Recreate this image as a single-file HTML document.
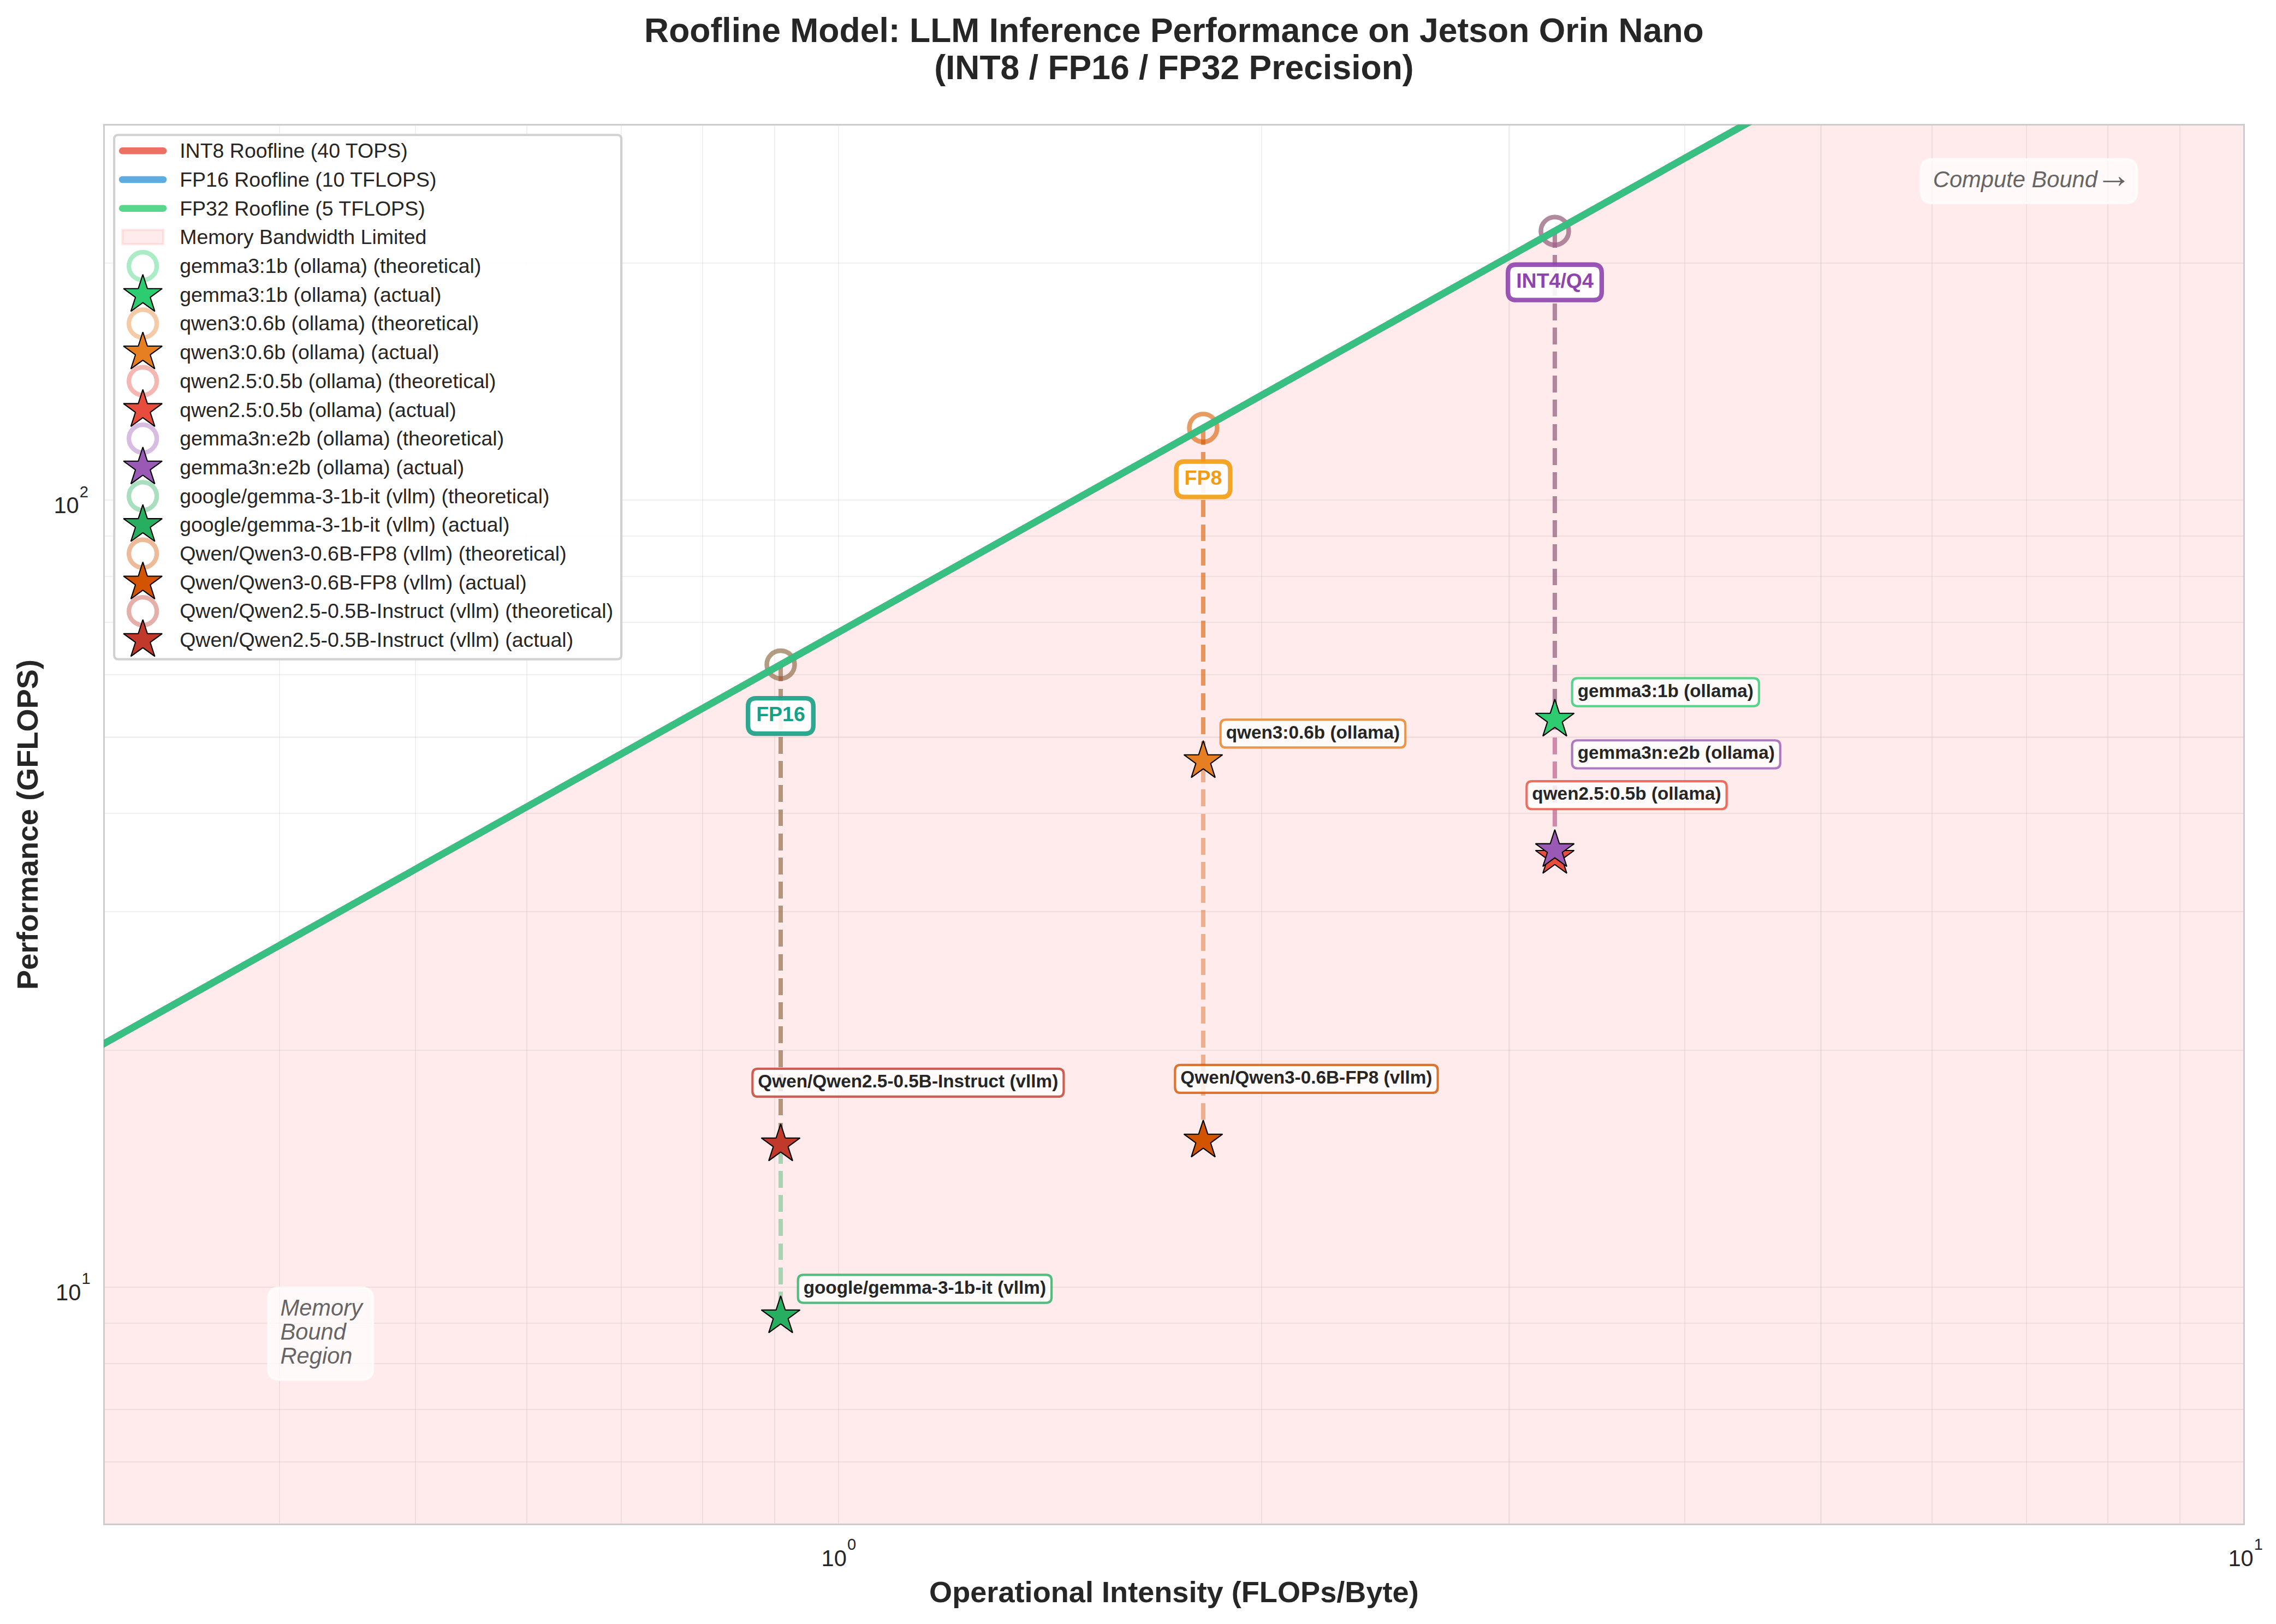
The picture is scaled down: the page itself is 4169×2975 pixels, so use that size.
<!DOCTYPE html>
<html><head><meta charset="utf-8"><title>Roofline Model</title>
<style>html,body{margin:0;padding:0;background:#fff;overflow:hidden;width:4169px;height:2975px}svg{display:block}text{font-family:"Liberation Sans",sans-serif}</style>
</head><body>
<svg width="4169" height="2975" viewBox="0 0 1000.56 714" preserveAspectRatio="none">
 <defs>
  <style type="text/css">*{stroke-linejoin: round; stroke-linecap: butt}</style>
 </defs>
 <g id="figure_1">
  <g id="patch_1">
   <path d="M 0 714  L 1000.56 714  L 1000.56 0  L 0 0  z" style="fill: #ffffff"/>
  </g>
  <g id="axes_1">
   <g id="patch_2">
    <path d="M 45.696 670.176  L 986.496 670.176  L 986.496 54.84  L 45.696 54.84  z" style="fill: #ffffff"/>
   </g>
   <g id="matplotlib.axis_1">
    <g id="xtick_1">
     <g id="line2d_1">
      <path d="M 368.718 670.176  L 368.718 54.84" clip-path="url(#p6d46db9cea)" style="fill: none; stroke: #cccccc; stroke-opacity: 0.3; stroke-width: 0.5; stroke-linecap: butt; shape-rendering: crispEdges"/>
     </g>
     <g id="line2d_2"/>
    </g>
    <g id="xtick_2">
     <g id="line2d_3">
      <path d="M 986.496 670.176  L 986.496 54.84" clip-path="url(#p6d46db9cea)" style="fill: none; stroke: #cccccc; stroke-opacity: 0.3; stroke-width: 0.5; stroke-linecap: butt; shape-rendering: crispEdges"/>
     </g>
     <g id="line2d_4"/>
    </g>
    <g id="xtick_3">
     <g id="line2d_5">
      <path d="M 45.696 670.176  L 45.696 54.84" clip-path="url(#p6d46db9cea)" style="fill: none; stroke: #cccccc; stroke-opacity: 0.3; stroke-width: 0.5; stroke-linecap: butt; shape-rendering: crispEdges"/>
     </g>
     <g id="line2d_6"/>
    </g>
    <g id="xtick_4">
     <g id="line2d_7">
      <path d="M 122.880 670.176  L 122.880 54.84" clip-path="url(#p6d46db9cea)" style="fill: none; stroke: #cccccc; stroke-opacity: 0.3; stroke-width: 0.5; stroke-linecap: butt; shape-rendering: crispEdges"/>
     </g>
     <g id="line2d_8"/>
    </g>
    <g id="xtick_5">
     <g id="line2d_9">
      <path d="M 182.749 670.176  L 182.749 54.84" clip-path="url(#p6d46db9cea)" style="fill: none; stroke: #cccccc; stroke-opacity: 0.3; stroke-width: 0.5; stroke-linecap: butt; shape-rendering: crispEdges"/>
     </g>
     <g id="line2d_10"/>
    </g>
    <g id="xtick_6">
     <g id="line2d_11">
      <path d="M 231.665 670.176  L 231.665 54.84" clip-path="url(#p6d46db9cea)" style="fill: none; stroke: #cccccc; stroke-opacity: 0.3; stroke-width: 0.5; stroke-linecap: butt; shape-rendering: crispEdges"/>
     </g>
     <g id="line2d_12"/>
    </g>
    <g id="xtick_7">
     <g id="line2d_13">
      <path d="M 273.023 670.176  L 273.023 54.84" clip-path="url(#p6d46db9cea)" style="fill: none; stroke: #cccccc; stroke-opacity: 0.3; stroke-width: 0.5; stroke-linecap: butt; shape-rendering: crispEdges"/>
     </g>
     <g id="line2d_14"/>
    </g>
    <g id="xtick_8">
     <g id="line2d_15">
      <path d="M 308.849 670.176  L 308.849 54.84" clip-path="url(#p6d46db9cea)" style="fill: none; stroke: #cccccc; stroke-opacity: 0.3; stroke-width: 0.5; stroke-linecap: butt; shape-rendering: crispEdges"/>
     </g>
     <g id="line2d_16"/>
    </g>
    <g id="xtick_9">
     <g id="line2d_17">
      <path d="M 340.450 670.176  L 340.450 54.84" clip-path="url(#p6d46db9cea)" style="fill: none; stroke: #cccccc; stroke-opacity: 0.3; stroke-width: 0.5; stroke-linecap: butt; shape-rendering: crispEdges"/>
     </g>
     <g id="line2d_18"/>
    </g>
    <g id="xtick_10">
     <g id="line2d_19">
      <path d="M 554.688 670.176  L 554.688 54.84" clip-path="url(#p6d46db9cea)" style="fill: none; stroke: #cccccc; stroke-opacity: 0.3; stroke-width: 0.5; stroke-linecap: butt; shape-rendering: crispEdges"/>
     </g>
     <g id="line2d_20"/>
    </g>
    <g id="xtick_11">
     <g id="line2d_21">
      <path d="M 663.473 670.176  L 663.473 54.84" clip-path="url(#p6d46db9cea)" style="fill: none; stroke: #cccccc; stroke-opacity: 0.3; stroke-width: 0.5; stroke-linecap: butt; shape-rendering: crispEdges"/>
     </g>
     <g id="line2d_22"/>
    </g>
    <g id="xtick_12">
     <g id="line2d_23">
      <path d="M 740.657 670.176  L 740.657 54.84" clip-path="url(#p6d46db9cea)" style="fill: none; stroke: #cccccc; stroke-opacity: 0.3; stroke-width: 0.5; stroke-linecap: butt; shape-rendering: crispEdges"/>
     </g>
     <g id="line2d_24"/>
    </g>
    <g id="xtick_13">
     <g id="line2d_25">
      <path d="M 800.526 670.176  L 800.526 54.84" clip-path="url(#p6d46db9cea)" style="fill: none; stroke: #cccccc; stroke-opacity: 0.3; stroke-width: 0.5; stroke-linecap: butt; shape-rendering: crispEdges"/>
     </g>
     <g id="line2d_26"/>
    </g>
    <g id="xtick_14">
     <g id="line2d_27">
      <path d="M 849.442 670.176  L 849.442 54.84" clip-path="url(#p6d46db9cea)" style="fill: none; stroke: #cccccc; stroke-opacity: 0.3; stroke-width: 0.5; stroke-linecap: butt; shape-rendering: crispEdges"/>
     </g>
     <g id="line2d_28"/>
    </g>
    <g id="xtick_15">
     <g id="line2d_29">
      <path d="M 890.801 670.176  L 890.801 54.84" clip-path="url(#p6d46db9cea)" style="fill: none; stroke: #cccccc; stroke-opacity: 0.3; stroke-width: 0.5; stroke-linecap: butt; shape-rendering: crispEdges"/>
     </g>
     <g id="line2d_30"/>
    </g>
    <g id="xtick_16">
     <g id="line2d_31">
      <path d="M 926.627 670.176  L 926.627 54.84" clip-path="url(#p6d46db9cea)" style="fill: none; stroke: #cccccc; stroke-opacity: 0.3; stroke-width: 0.5; stroke-linecap: butt; shape-rendering: crispEdges"/>
     </g>
     <g id="line2d_32"/>
    </g>
    <g id="xtick_17">
     <g id="line2d_33">
      <path d="M 958.228 670.176  L 958.228 54.84" clip-path="url(#p6d46db9cea)" style="fill: none; stroke: #cccccc; stroke-opacity: 0.3; stroke-width: 0.5; stroke-linecap: butt; shape-rendering: crispEdges"/>
     </g>
     <g id="line2d_34"/>
    </g>
   </g>
   <g id="matplotlib.axis_2">
    <g id="ytick_1">
     <g id="line2d_35">
      <path d="M 45.696 566.003  L 986.496 566.003" clip-path="url(#p6d46db9cea)" style="fill: none; stroke: #cccccc; stroke-opacity: 0.3; stroke-width: 0.5; stroke-linecap: butt; shape-rendering: crispEdges"/>
     </g>
     <g id="line2d_36"/>
    </g>
    <g id="ytick_2">
     <g id="line2d_37">
      <path d="M 45.696 219.949  L 986.496 219.949" clip-path="url(#p6d46db9cea)" style="fill: none; stroke: #cccccc; stroke-opacity: 0.3; stroke-width: 0.5; stroke-linecap: butt; shape-rendering: crispEdges"/>
     </g>
     <g id="line2d_38"/>
    </g>
    <g id="ytick_3">
     <g id="line2d_39">
      <path d="M 45.696 670.176  L 986.496 670.176" clip-path="url(#p6d46db9cea)" style="fill: none; stroke: #cccccc; stroke-opacity: 0.3; stroke-width: 0.5; stroke-linecap: butt; shape-rendering: crispEdges"/>
     </g>
     <g id="line2d_40"/>
    </g>
    <g id="ytick_4">
     <g id="line2d_41">
      <path d="M 45.696 642.775  L 986.496 642.775" clip-path="url(#p6d46db9cea)" style="fill: none; stroke: #cccccc; stroke-opacity: 0.3; stroke-width: 0.5; stroke-linecap: butt; shape-rendering: crispEdges"/>
     </g>
     <g id="line2d_42"/>
    </g>
    <g id="ytick_5">
     <g id="line2d_43">
      <path d="M 45.696 619.607  L 986.496 619.607" clip-path="url(#p6d46db9cea)" style="fill: none; stroke: #cccccc; stroke-opacity: 0.3; stroke-width: 0.5; stroke-linecap: butt; shape-rendering: crispEdges"/>
     </g>
     <g id="line2d_44"/>
    </g>
    <g id="ytick_6">
     <g id="line2d_45">
      <path d="M 45.696 599.539  L 986.496 599.539" clip-path="url(#p6d46db9cea)" style="fill: none; stroke: #cccccc; stroke-opacity: 0.3; stroke-width: 0.5; stroke-linecap: butt; shape-rendering: crispEdges"/>
     </g>
     <g id="line2d_46"/>
    </g>
    <g id="ytick_7">
     <g id="line2d_47">
      <path d="M 45.696 581.837  L 986.496 581.837" clip-path="url(#p6d46db9cea)" style="fill: none; stroke: #cccccc; stroke-opacity: 0.3; stroke-width: 0.5; stroke-linecap: butt; shape-rendering: crispEdges"/>
     </g>
     <g id="line2d_48"/>
    </g>
    <g id="ytick_8">
     <g id="line2d_49">
      <path d="M 45.696 461.830  L 986.496 461.830" clip-path="url(#p6d46db9cea)" style="fill: none; stroke: #cccccc; stroke-opacity: 0.3; stroke-width: 0.5; stroke-linecap: butt; shape-rendering: crispEdges"/>
     </g>
     <g id="line2d_50"/>
    </g>
    <g id="ytick_9">
     <g id="line2d_51">
      <path d="M 45.696 400.893  L 986.496 400.893" clip-path="url(#p6d46db9cea)" style="fill: none; stroke: #cccccc; stroke-opacity: 0.3; stroke-width: 0.5; stroke-linecap: butt; shape-rendering: crispEdges"/>
     </g>
     <g id="line2d_52"/>
    </g>
    <g id="ytick_10">
     <g id="line2d_53">
      <path d="M 45.696 357.658  L 986.496 357.658" clip-path="url(#p6d46db9cea)" style="fill: none; stroke: #cccccc; stroke-opacity: 0.3; stroke-width: 0.5; stroke-linecap: butt; shape-rendering: crispEdges"/>
     </g>
     <g id="line2d_54"/>
    </g>
    <g id="ytick_11">
     <g id="line2d_55">
      <path d="M 45.696 324.122  L 986.496 324.122" clip-path="url(#p6d46db9cea)" style="fill: none; stroke: #cccccc; stroke-opacity: 0.3; stroke-width: 0.5; stroke-linecap: butt; shape-rendering: crispEdges"/>
     </g>
     <g id="line2d_56"/>
    </g>
    <g id="ytick_12">
     <g id="line2d_57">
      <path d="M 45.696 296.721  L 986.496 296.721" clip-path="url(#p6d46db9cea)" style="fill: none; stroke: #cccccc; stroke-opacity: 0.3; stroke-width: 0.5; stroke-linecap: butt; shape-rendering: crispEdges"/>
     </g>
     <g id="line2d_58"/>
    </g>
    <g id="ytick_13">
     <g id="line2d_59">
      <path d="M 45.696 273.554  L 986.496 273.554" clip-path="url(#p6d46db9cea)" style="fill: none; stroke: #cccccc; stroke-opacity: 0.3; stroke-width: 0.5; stroke-linecap: butt; shape-rendering: crispEdges"/>
     </g>
     <g id="line2d_60"/>
    </g>
    <g id="ytick_14">
     <g id="line2d_61">
      <path d="M 45.696 253.485  L 986.496 253.485" clip-path="url(#p6d46db9cea)" style="fill: none; stroke: #cccccc; stroke-opacity: 0.3; stroke-width: 0.5; stroke-linecap: butt; shape-rendering: crispEdges"/>
     </g>
     <g id="line2d_62"/>
    </g>
    <g id="ytick_15">
     <g id="line2d_63">
      <path d="M 45.696 235.784  L 986.496 235.784" clip-path="url(#p6d46db9cea)" style="fill: none; stroke: #cccccc; stroke-opacity: 0.3; stroke-width: 0.5; stroke-linecap: butt; shape-rendering: crispEdges"/>
     </g>
     <g id="line2d_64"/>
    </g>
    <g id="ytick_16">
     <g id="line2d_65">
      <path d="M 45.696 115.777  L 986.496 115.777" clip-path="url(#p6d46db9cea)" style="fill: none; stroke: #cccccc; stroke-opacity: 0.3; stroke-width: 0.5; stroke-linecap: butt; shape-rendering: crispEdges"/>
     </g>
     <g id="line2d_66"/>
    </g>
    <g id="ytick_17">
     <g id="line2d_67">
      <path d="M 45.696 54.84  L 986.496 54.84" clip-path="url(#p6d46db9cea)" style="fill: none; stroke: #cccccc; stroke-opacity: 0.3; stroke-width: 0.5; stroke-linecap: butt; shape-rendering: crispEdges"/>
     </g>
     <g id="line2d_68"/>
    </g>
   </g>
   <g id="FillBetweenPolyCollection_1">
    <path d="M -249.058 623.964  L -249.058 1258.111  L -246.585 1258.111  L -244.111 1258.111  L -241.637 1258.111  L -239.164 1258.111  L -236.690 1258.111  L -234.217 1258.111  L -231.743 1258.111  L -229.270 1258.111  L -226.796 1258.111  L -224.322 1258.111  L -221.849 1258.111  L -219.375 1258.111  L -216.902 1258.111  L -214.428 1258.111  L -211.954 1258.111  L -209.481 1258.111  L -207.007 1258.111  L -204.534 1258.111  L -202.060 1258.111  L -199.587 1258.111  L -197.113 1258.111  L -194.639 1258.111  L -192.166 1258.111  L -189.692 1258.111  L -187.219 1258.111  L -184.745 1258.111  L -182.271 1258.111  L -179.798 1258.111  L -177.324 1258.111  L -174.851 1258.111  L -172.377 1258.111  L -169.904 1258.111  L -167.430 1258.111  L -164.956 1258.111  L -162.483 1258.111  L -160.009 1258.111  L -157.536 1258.111  L -155.062 1258.111  L -152.588 1258.111  L -150.115 1258.111  L -147.641 1258.111  L -145.168 1258.111  L -142.694 1258.111  L -140.221 1258.111  L -137.747 1258.111  L -135.273 1258.111  L -132.800 1258.111  L -130.326 1258.111  L -127.853 1258.111  L -125.379 1258.111  L -122.905 1258.111  L -120.432 1258.111  L -117.958 1258.111  L -115.485 1258.111  L -113.011 1258.111  L -110.538 1258.111  L -108.064 1258.111  L -105.590 1258.111  L -103.117 1258.111  L -100.643 1258.111  L -98.170 1258.111  L -95.696 1258.111  L -93.222 1258.111  L -90.749 1258.111  L -88.275 1258.111  L -85.802 1258.111  L -83.328 1258.111  L -80.855 1258.111  L -78.381 1258.111  L -75.907 1258.111  L -73.434 1258.111  L -70.960 1258.111  L -68.487 1258.111  L -66.013 1258.111  L -63.539 1258.111  L -61.066 1258.111  L -58.592 1258.111  L -56.119 1258.111  L -53.645 1258.111  L -51.172 1258.111  L -48.698 1258.111  L -46.224 1258.111  L -43.751 1258.111  L -41.277 1258.111  L -38.804 1258.111  L -36.330 1258.111  L -33.856 1258.111  L -31.383 1258.111  L -28.909 1258.111  L -26.436 1258.111  L -23.962 1258.111  L -21.489 1258.111  L -19.015 1258.111  L -16.541 1258.111  L -14.068 1258.111  L -11.594 1258.111  L -9.121 1258.111  L -6.647 1258.111  L -4.173 1258.111  L -1.700 1258.111  L 0.773 1258.111  L 3.246 1258.111  L 5.720 1258.111  L 8.193 1258.111  L 10.667 1258.111  L 13.141 1258.111  L 15.614 1258.111  L 18.088 1258.111  L 20.561 1258.111  L 23.035 1258.111  L 25.509 1258.111  L 27.982 1258.111  L 30.456 1258.111  L 32.929 1258.111  L 35.403 1258.111  L 37.876 1258.111  L 40.350 1258.111  L 42.824 1258.111  L 45.297 1258.111  L 47.771 1258.111  L 50.244 1258.111  L 52.718 1258.111  L 55.192 1258.111  L 57.665 1258.111  L 60.139 1258.111  L 62.612 1258.111  L 65.086 1258.111  L 67.559 1258.111  L 70.033 1258.111  L 72.507 1258.111  L 74.980 1258.111  L 77.454 1258.111  L 79.927 1258.111  L 82.401 1258.111  L 84.874 1258.111  L 87.348 1258.111  L 89.822 1258.111  L 92.295 1258.111  L 94.769 1258.111  L 97.242 1258.111  L 99.716 1258.111  L 102.190 1258.111  L 104.663 1258.111  L 107.137 1258.111  L 109.610 1258.111  L 112.084 1258.111  L 114.557 1258.111  L 117.031 1258.111  L 119.505 1258.111  L 121.978 1258.111  L 124.452 1258.111  L 126.925 1258.111  L 129.399 1258.111  L 131.873 1258.111  L 134.346 1258.111  L 136.820 1258.111  L 139.293 1258.111  L 141.767 1258.111  L 144.240 1258.111  L 146.714 1258.111  L 149.188 1258.111  L 151.661 1258.111  L 154.135 1258.111  L 156.608 1258.111  L 159.082 1258.111  L 161.556 1258.111  L 164.029 1258.111  L 166.503 1258.111  L 168.976 1258.111  L 171.450 1258.111  L 173.923 1258.111  L 176.397 1258.111  L 178.871 1258.111  L 181.344 1258.111  L 183.818 1258.111  L 186.291 1258.111  L 188.765 1258.111  L 191.239 1258.111  L 193.712 1258.111  L 196.186 1258.111  L 198.659 1258.111  L 201.133 1258.111  L 203.606 1258.111  L 206.080 1258.111  L 208.554 1258.111  L 211.027 1258.111  L 213.501 1258.111  L 215.974 1258.111  L 218.448 1258.111  L 220.922 1258.111  L 223.395 1258.111  L 225.869 1258.111  L 228.342 1258.111  L 230.816 1258.111  L 233.289 1258.111  L 235.763 1258.111  L 238.237 1258.111  L 240.710 1258.111  L 243.184 1258.111  L 245.657 1258.111  L 248.131 1258.111  L 250.605 1258.111  L 253.078 1258.111  L 255.552 1258.111  L 258.025 1258.111  L 260.499 1258.111  L 262.972 1258.111  L 265.446 1258.111  L 267.920 1258.111  L 270.393 1258.111  L 272.867 1258.111  L 275.340 1258.111  L 277.814 1258.111  L 280.288 1258.111  L 282.761 1258.111  L 285.235 1258.111  L 287.708 1258.111  L 290.182 1258.111  L 292.655 1258.111  L 295.129 1258.111  L 297.603 1258.111  L 300.076 1258.111  L 302.550 1258.111  L 305.023 1258.111  L 307.497 1258.111  L 309.971 1258.111  L 312.444 1258.111  L 314.918 1258.111  L 317.391 1258.111  L 319.865 1258.111  L 322.338 1258.111  L 324.812 1258.111  L 327.286 1258.111  L 329.759 1258.111  L 332.233 1258.111  L 334.706 1258.111  L 337.180 1258.111  L 339.654 1258.111  L 342.127 1258.111  L 344.601 1258.111  L 347.074 1258.111  L 349.548 1258.111  L 352.021 1258.111  L 354.495 1258.111  L 356.969 1258.111  L 359.442 1258.111  L 361.916 1258.111  L 364.389 1258.111  L 366.863 1258.111  L 369.337 1258.111  L 371.810 1258.111  L 374.284 1258.111  L 376.757 1258.111  L 379.231 1258.111  L 381.704 1258.111  L 384.178 1258.111  L 386.652 1258.111  L 389.125 1258.111  L 391.599 1258.111  L 394.072 1258.111  L 396.546 1258.111  L 399.020 1258.111  L 401.493 1258.111  L 403.967 1258.111  L 406.440 1258.111  L 408.914 1258.111  L 411.387 1258.111  L 413.861 1258.111  L 416.335 1258.111  L 418.808 1258.111  L 421.282 1258.111  L 423.755 1258.111  L 426.229 1258.111  L 428.703 1258.111  L 431.176 1258.111  L 433.650 1258.111  L 436.123 1258.111  L 438.597 1258.111  L 441.070 1258.111  L 443.544 1258.111  L 446.018 1258.111  L 448.491 1258.111  L 450.965 1258.111  L 453.438 1258.111  L 455.912 1258.111  L 458.386 1258.111  L 460.859 1258.111  L 463.333 1258.111  L 465.806 1258.111  L 468.280 1258.111  L 470.753 1258.111  L 473.227 1258.111  L 475.701 1258.111  L 478.174 1258.111  L 480.648 1258.111  L 483.121 1258.111  L 485.595 1258.111  L 488.069 1258.111  L 490.542 1258.111  L 493.016 1258.111  L 495.489 1258.111  L 497.963 1258.111  L 500.436 1258.111  L 502.910 1258.111  L 505.384 1258.111  L 507.857 1258.111  L 510.331 1258.111  L 512.804 1258.111  L 515.278 1258.111  L 517.752 1258.111  L 520.225 1258.111  L 522.699 1258.111  L 525.172 1258.111  L 527.646 1258.111  L 530.119 1258.111  L 532.593 1258.111  L 535.067 1258.111  L 537.540 1258.111  L 540.014 1258.111  L 542.487 1258.111  L 544.961 1258.111  L 547.435 1258.111  L 549.908 1258.111  L 552.382 1258.111  L 554.855 1258.111  L 557.329 1258.111  L 559.802 1258.111  L 562.276 1258.111  L 564.750 1258.111  L 567.223 1258.111  L 569.697 1258.111  L 572.170 1258.111  L 574.644 1258.111  L 577.118 1258.111  L 579.591 1258.111  L 582.065 1258.111  L 584.538 1258.111  L 587.012 1258.111  L 589.485 1258.111  L 591.959 1258.111  L 594.433 1258.111  L 596.906 1258.111  L 599.380 1258.111  L 601.853 1258.111  L 604.327 1258.111  L 606.801 1258.111  L 609.274 1258.111  L 611.748 1258.111  L 614.221 1258.111  L 616.695 1258.111  L 619.168 1258.111  L 621.642 1258.111  L 624.116 1258.111  L 626.589 1258.111  L 629.063 1258.111  L 631.536 1258.111  L 634.010 1258.111  L 636.484 1258.111  L 638.957 1258.111  L 641.431 1258.111  L 643.904 1258.111  L 646.378 1258.111  L 648.851 1258.111  L 651.325 1258.111  L 653.799 1258.111  L 656.272 1258.111  L 658.746 1258.111  L 661.219 1258.111  L 663.693 1258.111  L 666.167 1258.111  L 668.640 1258.111  L 671.114 1258.111  L 673.587 1258.111  L 676.061 1258.111  L 678.534 1258.111  L 681.008 1258.111  L 683.482 1258.111  L 685.955 1258.111  L 688.429 1258.111  L 690.902 1258.111  L 693.376 1258.111  L 695.849 1258.111  L 698.323 1258.111  L 700.797 1258.111  L 703.270 1258.111  L 705.744 1258.111  L 708.217 1258.111  L 710.691 1258.111  L 713.165 1258.111  L 715.638 1258.111  L 718.112 1258.111  L 720.585 1258.111  L 723.059 1258.111  L 725.532 1258.111  L 728.006 1258.111  L 730.480 1258.111  L 732.953 1258.111  L 735.427 1258.111  L 737.900 1258.111  L 740.374 1258.111  L 742.848 1258.111  L 745.321 1258.111  L 747.795 1258.111  L 750.268 1258.111  L 752.742 1258.111  L 755.215 1258.111  L 757.689 1258.111  L 760.163 1258.111  L 762.636 1258.111  L 765.110 1258.111  L 767.583 1258.111  L 770.057 1258.111  L 772.531 1258.111  L 775.004 1258.111  L 777.478 1258.111  L 779.951 1258.111  L 782.425 1258.111  L 784.898 1258.111  L 787.372 1258.111  L 789.846 1258.111  L 792.319 1258.111  L 794.793 1258.111  L 797.266 1258.111  L 799.740 1258.111  L 802.214 1258.111  L 804.687 1258.111  L 807.161 1258.111  L 809.634 1258.111  L 812.108 1258.111  L 814.581 1258.111  L 817.055 1258.111  L 819.529 1258.111  L 822.002 1258.111  L 824.476 1258.111  L 826.949 1258.111  L 829.423 1258.111  L 831.897 1258.111  L 834.370 1258.111  L 836.844 1258.111  L 839.317 1258.111  L 841.791 1258.111  L 844.264 1258.111  L 846.738 1258.111  L 849.212 1258.111  L 851.685 1258.111  L 854.159 1258.111  L 856.632 1258.111  L 859.106 1258.111  L 861.580 1258.111  L 864.053 1258.111  L 866.527 1258.111  L 869.000 1258.111  L 871.474 1258.111  L 873.947 1258.111  L 876.421 1258.111  L 878.895 1258.111  L 881.368 1258.111  L 883.842 1258.111  L 886.315 1258.111  L 888.789 1258.111  L 891.263 1258.111  L 893.736 1258.111  L 896.210 1258.111  L 898.683 1258.111  L 901.157 1258.111  L 903.630 1258.111  L 906.104 1258.111  L 908.578 1258.111  L 911.051 1258.111  L 913.525 1258.111  L 915.998 1258.111  L 918.472 1258.111  L 920.946 1258.111  L 923.419 1258.111  L 925.893 1258.111  L 928.366 1258.111  L 930.840 1258.111  L 933.313 1258.111  L 935.787 1258.111  L 938.261 1258.111  L 940.734 1258.111  L 943.208 1258.111  L 945.681 1258.111  L 948.155 1258.111  L 950.629 1258.111  L 953.102 1258.111  L 955.576 1258.111  L 958.049 1258.111  L 960.523 1258.111  L 962.996 1258.111  L 965.470 1258.111  L 967.944 1258.111  L 970.417 1258.111  L 972.891 1258.111  L 975.364 1258.111  L 977.838 1258.111  L 980.312 1258.111  L 982.785 1258.111  L 985.259 1258.111  L 987.732 1258.111  L 990.206 1258.111  L 992.679 1258.111  L 995.153 1258.111  L 997.627 1258.111  L 1000.100 1258.111  L 1002.574 1258.111  L 1005.047 1258.111  L 1007.521 1258.111  L 1009.995 1258.111  L 1012.468 1258.111  L 1014.942 1258.111  L 1017.415 1258.111  L 1019.889 1258.111  L 1022.362 1258.111  L 1024.836 1258.111  L 1027.310 1258.111  L 1029.783 1258.111  L 1032.257 1258.111  L 1034.730 1258.111  L 1037.204 1258.111  L 1039.678 1258.111  L 1042.151 1258.111  L 1044.625 1258.111  L 1047.098 1258.111  L 1049.572 1258.111  L 1052.045 1258.111  L 1054.519 1258.111  L 1056.993 1258.111  L 1059.466 1258.111  L 1061.940 1258.111  L 1064.413 1258.111  L 1066.887 1258.111  L 1069.361 1258.111  L 1071.834 1258.111  L 1074.308 1258.111  L 1076.781 1258.111  L 1079.255 1258.111  L 1081.728 1258.111  L 1084.202 1258.111  L 1086.676 1258.111  L 1089.149 1258.111  L 1091.623 1258.111  L 1094.096 1258.111  L 1096.570 1258.111  L 1099.044 1258.111  L 1101.517 1258.111  L 1103.991 1258.111  L 1106.464 1258.111  L 1108.938 1258.111  L 1111.411 1258.111  L 1113.885 1258.111  L 1116.359 1258.111  L 1118.832 1258.111  L 1121.306 1258.111  L 1123.779 1258.111  L 1126.253 1258.111  L 1128.727 1258.111  L 1131.200 1258.111  L 1133.674 1258.111  L 1136.147 1258.111  L 1138.621 1258.111  L 1141.094 1258.111  L 1143.568 1258.111  L 1146.042 1258.111  L 1148.515 1258.111  L 1150.989 1258.111  L 1153.462 1258.111  L 1155.936 1258.111  L 1158.410 1258.111  L 1160.883 1258.111  L 1163.357 1258.111  L 1165.830 1258.111  L 1168.304 1258.111  L 1170.777 1258.111  L 1173.251 1258.111  L 1175.725 1258.111  L 1178.198 1258.111  L 1180.672 1258.111  L 1183.145 1258.111  L 1185.619 1258.111  L 1188.093 1258.111  L 1190.566 1258.111  L 1193.040 1258.111  L 1195.513 1258.111  L 1197.987 1258.111  L 1200.460 1258.111  L 1202.934 1258.111  L 1205.408 1258.111  L 1207.881 1258.111  L 1210.355 1258.111  L 1212.828 1258.111  L 1215.302 1258.111  L 1217.776 1258.111  L 1220.249 1258.111  L 1222.723 1258.111  L 1225.196 1258.111  L 1227.670 1258.111  L 1230.143 1258.111  L 1232.617 1258.111  L 1235.091 1258.111  L 1237.564 1258.111  L 1240.038 1258.111  L 1242.511 1258.111  L 1244.985 1258.111  L 1247.459 1258.111  L 1249.932 1258.111  L 1252.406 1258.111  L 1254.879 1258.111  L 1257.353 1258.111  L 1259.826 1258.111  L 1262.300 1258.111  L 1264.774 1258.111  L 1267.247 1258.111  L 1269.721 1258.111  L 1272.194 1258.111  L 1274.668 1258.111  L 1277.142 1258.111  L 1279.615 1258.111  L 1282.089 1258.111  L 1284.562 1258.111  L 1287.036 1258.111  L 1289.509 1258.111  L 1291.983 1258.111  L 1294.457 1258.111  L 1296.930 1258.111  L 1299.404 1258.111  L 1301.877 1258.111  L 1304.351 1258.111  L 1306.824 1258.111  L 1309.298 1258.111  L 1311.772 1258.111  L 1314.245 1258.111  L 1316.719 1258.111  L 1319.192 1258.111  L 1321.666 1258.111  L 1324.140 1258.111  L 1326.613 1258.111  L 1329.087 1258.111  L 1331.560 1258.111  L 1334.034 1258.111  L 1336.507 1258.111  L 1338.981 1258.111  L 1341.455 1258.111  L 1343.928 1258.111  L 1346.402 1258.111  L 1348.875 1258.111  L 1351.349 1258.111  L 1353.823 1258.111  L 1356.296 1258.111  L 1358.770 1258.111  L 1361.243 1258.111  L 1363.717 1258.111  L 1366.190 1258.111  L 1368.664 1258.111  L 1371.138 1258.111  L 1373.611 1258.111  L 1376.085 1258.111  L 1378.558 1258.111  L 1381.032 1258.111  L 1383.506 1258.111  L 1385.979 1258.111  L 1388.453 1258.111  L 1390.926 1258.111  L 1393.400 1258.111  L 1395.873 1258.111  L 1398.347 1258.111  L 1400.821 1258.111  L 1403.294 1258.111  L 1405.768 1258.111  L 1408.241 1258.111  L 1410.715 1258.111  L 1413.189 1258.111  L 1415.662 1258.111  L 1418.136 1258.111  L 1420.609 1258.111  L 1423.083 1258.111  L 1425.556 1258.111  L 1428.030 1258.111  L 1430.504 1258.111  L 1432.977 1258.111  L 1435.451 1258.111  L 1437.924 1258.111  L 1440.398 1258.111  L 1442.872 1258.111  L 1445.345 1258.111  L 1447.819 1258.111  L 1450.292 1258.111  L 1452.766 1258.111  L 1455.239 1258.111  L 1457.713 1258.111  L 1460.187 1258.111  L 1462.660 1258.111  L 1465.134 1258.111  L 1467.607 1258.111  L 1470.081 1258.111  L 1472.555 1258.111  L 1475.028 1258.111  L 1477.502 1258.111  L 1479.975 1258.111  L 1482.449 1258.111  L 1484.922 1258.111  L 1487.396 1258.111  L 1489.870 1258.111  L 1492.343 1258.111  L 1494.817 1258.111  L 1497.290 1258.111  L 1499.764 1258.111  L 1502.238 1258.111  L 1504.711 1258.111  L 1507.185 1258.111  L 1509.658 1258.111  L 1512.132 1258.111  L 1514.605 1258.111  L 1517.079 1258.111  L 1519.553 1258.111  L 1522.026 1258.111  L 1524.500 1258.111  L 1526.973 1258.111  L 1529.447 1258.111  L 1531.921 1258.111  L 1534.394 1258.111  L 1536.868 1258.111  L 1539.341 1258.111  L 1541.815 1258.111  L 1544.288 1258.111  L 1546.762 1258.111  L 1549.236 1258.111  L 1551.709 1258.111  L 1554.183 1258.111  L 1556.656 1258.111  L 1559.130 1258.111  L 1561.604 1258.111  L 1564.077 1258.111  L 1566.551 1258.111  L 1569.024 1258.111  L 1571.498 1258.111  L 1573.971 1258.111  L 1576.445 1258.111  L 1578.919 1258.111  L 1581.392 1258.111  L 1583.866 1258.111  L 1586.339 1258.111  L 1588.813 1258.111  L 1591.287 1258.111  L 1593.760 1258.111  L 1596.234 1258.111  L 1598.707 1258.111  L 1601.181 1258.111  L 1603.654 1258.111  L 1606.128 1258.111  L 1608.602 1258.111  L 1611.075 1258.111  L 1613.549 1258.111  L 1616.022 1258.111  L 1618.496 1258.111  L 1620.970 1258.111  L 1623.443 1258.111  L 1625.917 1258.111  L 1628.390 1258.111  L 1630.864 1258.111  L 1633.337 1258.111  L 1635.811 1258.111  L 1638.285 1258.111  L 1640.758 1258.111  L 1643.232 1258.111  L 1645.705 1258.111  L 1648.179 1258.111  L 1650.653 1258.111  L 1653.126 1258.111  L 1655.600 1258.111  L 1658.073 1258.111  L 1660.547 1258.111  L 1663.020 1258.111  L 1665.494 1258.111  L 1667.968 1258.111  L 1670.441 1258.111  L 1672.915 1258.111  L 1675.388 1258.111  L 1677.862 1258.111  L 1680.336 1258.111  L 1682.809 1258.111  L 1685.283 1258.111  L 1687.756 1258.111  L 1690.230 1258.111  L 1692.703 1258.111  L 1695.177 1258.111  L 1697.651 1258.111  L 1700.124 1258.111  L 1702.598 1258.111  L 1705.071 1258.111  L 1707.545 1258.111  L 1710.019 1258.111  L 1712.492 1258.111  L 1714.966 1258.111  L 1717.439 1258.111  L 1719.913 1258.111  L 1722.386 1258.111  L 1724.860 1258.111  L 1727.334 1258.111  L 1729.807 1258.111  L 1732.281 1258.111  L 1734.754 1258.111  L 1737.228 1258.111  L 1739.702 1258.111  L 1742.175 1258.111  L 1744.649 1258.111  L 1747.122 1258.111  L 1749.596 1258.111  L 1752.069 1258.111  L 1754.543 1258.111  L 1757.017 1258.111  L 1759.490 1258.111  L 1761.964 1258.111  L 1764.437 1258.111  L 1766.911 1258.111  L 1769.385 1258.111  L 1771.858 1258.111  L 1774.332 1258.111  L 1776.805 1258.111  L 1779.279 1258.111  L 1781.752 1258.111  L 1784.226 1258.111  L 1786.700 1258.111  L 1789.173 1258.111  L 1791.647 1258.111  L 1794.120 1258.111  L 1796.594 1258.111  L 1799.068 1258.111  L 1801.541 1258.111  L 1804.015 1258.111  L 1806.488 1258.111  L 1808.962 1258.111  L 1811.435 1258.111  L 1813.909 1258.111  L 1816.383 1258.111  L 1818.856 1258.111  L 1821.330 1258.111  L 1823.803 1258.111  L 1826.277 1258.111  L 1828.751 1258.111  L 1831.224 1258.111  L 1833.698 1258.111  L 1836.171 1258.111  L 1838.645 1258.111  L 1841.118 1258.111  L 1843.592 1258.111  L 1846.066 1258.111  L 1848.539 1258.111  L 1851.013 1258.111  L 1853.486 1258.111  L 1855.960 1258.111  L 1858.434 1258.111  L 1860.907 1258.111  L 1863.381 1258.111  L 1865.854 1258.111  L 1868.328 1258.111  L 1870.801 1258.111  L 1873.275 1258.111  L 1875.749 1258.111  L 1878.222 1258.111  L 1880.696 1258.111  L 1883.169 1258.111  L 1885.643 1258.111  L 1888.117 1258.111  L 1890.590 1258.111  L 1893.064 1258.111  L 1895.537 1258.111  L 1898.011 1258.111  L 1900.484 1258.111  L 1902.958 1258.111  L 1905.432 1258.111  L 1907.905 1258.111  L 1910.379 1258.111  L 1912.852 1258.111  L 1915.326 1258.111  L 1917.799 1258.111  L 1920.273 1258.111  L 1922.747 1258.111  L 1925.220 1258.111  L 1927.694 1258.111  L 1930.167 1258.111  L 1932.641 1258.111  L 1935.115 1258.111  L 1937.588 1258.111  L 1940.062 1258.111  L 1942.535 1258.111  L 1945.009 1258.111  L 1947.482 1258.111  L 1949.956 1258.111  L 1952.430 1258.111  L 1954.903 1258.111  L 1957.377 1258.111  L 1959.850 1258.111  L 1962.324 1258.111  L 1964.798 1258.111  L 1967.271 1258.111  L 1969.745 1258.111  L 1972.218 1258.111  L 1974.692 1258.111  L 1977.165 1258.111  L 1979.639 1258.111  L 1982.113 1258.111  L 1984.586 1258.111  L 1987.060 1258.111  L 1989.533 1258.111  L 1992.007 1258.111  L 1994.481 1258.111  L 1996.954 1258.111  L 1999.428 1258.111  L 2001.901 1258.111  L 2004.375 1258.111  L 2006.848 1258.111  L 2009.322 1258.111  L 2011.796 1258.111  L 2014.269 1258.111  L 2016.743 1258.111  L 2019.216 1258.111  L 2021.690 1258.111  L 2024.164 1258.111  L 2026.637 1258.111  L 2029.111 1258.111  L 2031.584 1258.111  L 2034.058 1258.111  L 2036.531 1258.111  L 2039.005 1258.111  L 2041.479 1258.111  L 2043.952 1258.111  L 2046.426 1258.111  L 2048.899 1258.111  L 2051.373 1258.111  L 2053.847 1258.111  L 2056.320 1258.111  L 2058.794 1258.111  L 2061.267 1258.111  L 2063.741 1258.111  L 2066.214 1258.111  L 2068.688 1258.111  L 2071.162 1258.111  L 2073.635 1258.111  L 2076.109 1258.111  L 2078.582 1258.111  L 2081.056 1258.111  L 2083.530 1258.111  L 2086.003 1258.111  L 2088.477 1258.111  L 2090.950 1258.111  L 2093.424 1258.111  L 2095.897 1258.111  L 2098.371 1258.111  L 2100.845 1258.111  L 2103.318 1258.111  L 2105.792 1258.111  L 2108.265 1258.111  L 2110.739 1258.111  L 2113.213 1258.111  L 2115.686 1258.111  L 2118.160 1258.111  L 2120.633 1258.111  L 2123.107 1258.111  L 2125.580 1258.111  L 2128.054 1258.111  L 2130.528 1258.111  L 2133.001 1258.111  L 2135.475 1258.111  L 2137.948 1258.111  L 2140.422 1258.111  L 2142.896 1258.111  L 2145.369 1258.111  L 2147.843 1258.111  L 2150.316 1258.111  L 2152.790 1258.111  L 2155.263 1258.111  L 2157.737 1258.111  L 2160.211 1258.111  L 2162.684 1258.111  L 2165.158 1258.111  L 2167.631 1258.111  L 2170.105 1258.111  L 2172.579 1258.111  L 2175.052 1258.111  L 2177.526 1258.111  L 2179.999 1258.111  L 2182.473 1258.111  L 2184.946 1258.111  L 2187.420 1258.111  L 2189.894 1258.111  L 2192.367 1258.111  L 2194.841 1258.111  L 2197.314 1258.111  L 2199.788 1258.111  L 2202.262 1258.111  L 2204.735 1258.111  L 2207.209 1258.111  L 2209.682 1258.111  L 2212.156 1258.111  L 2214.629 1258.111  L 2217.103 1258.111  L 2219.577 1258.111  L 2222.050 1258.111  L 2222.050 -367.985  L 2222.050 -367.985  L 2219.577 -367.985  L 2217.103 -367.985  L 2214.629 -367.985  L 2212.156 -367.985  L 2209.682 -367.985  L 2207.209 -367.985  L 2204.735 -367.985  L 2202.262 -367.985  L 2199.788 -367.985  L 2197.314 -367.985  L 2194.841 -367.985  L 2192.367 -367.985  L 2189.894 -367.985  L 2187.420 -367.985  L 2184.946 -367.985  L 2182.473 -367.985  L 2179.999 -367.985  L 2177.526 -367.985  L 2175.052 -367.985  L 2172.579 -367.985  L 2170.105 -367.985  L 2167.631 -367.985  L 2165.158 -367.985  L 2162.684 -367.985  L 2160.211 -367.985  L 2157.737 -367.985  L 2155.263 -367.985  L 2152.790 -367.985  L 2150.316 -367.985  L 2147.843 -367.985  L 2145.369 -367.985  L 2142.896 -367.985  L 2140.422 -367.985  L 2137.948 -367.985  L 2135.475 -367.985  L 2133.001 -367.985  L 2130.528 -367.985  L 2128.054 -367.985  L 2125.580 -367.985  L 2123.107 -367.985  L 2120.633 -367.985  L 2118.160 -367.985  L 2115.686 -367.985  L 2113.213 -367.985  L 2110.739 -367.985  L 2108.265 -367.985  L 2105.792 -367.985  L 2103.318 -367.985  L 2100.845 -367.985  L 2098.371 -367.985  L 2095.897 -367.985  L 2093.424 -367.985  L 2090.950 -367.985  L 2088.477 -367.985  L 2086.003 -367.985  L 2083.530 -367.985  L 2081.056 -367.985  L 2078.582 -367.985  L 2076.109 -367.985  L 2073.635 -367.985  L 2071.162 -367.985  L 2068.688 -367.985  L 2066.214 -367.985  L 2063.741 -367.985  L 2061.267 -367.985  L 2058.794 -367.985  L 2056.320 -367.985  L 2053.847 -367.985  L 2051.373 -367.985  L 2048.899 -367.985  L 2046.426 -367.985  L 2043.952 -367.985  L 2041.479 -367.985  L 2039.005 -367.985  L 2036.531 -367.985  L 2034.058 -367.985  L 2031.584 -367.985  L 2029.111 -367.985  L 2026.637 -367.985  L 2024.164 -367.985  L 2021.690 -367.985  L 2019.216 -367.985  L 2016.743 -367.985  L 2014.269 -367.985  L 2011.796 -367.985  L 2009.322 -367.985  L 2006.848 -367.985  L 2004.375 -367.985  L 2001.901 -367.985  L 1999.428 -367.985  L 1996.954 -367.985  L 1994.481 -367.985  L 1992.007 -367.985  L 1989.533 -367.985  L 1987.060 -367.985  L 1984.586 -367.985  L 1982.113 -367.985  L 1979.639 -367.985  L 1977.165 -367.985  L 1974.692 -367.985  L 1972.218 -367.985  L 1969.745 -367.985  L 1967.271 -367.985  L 1964.798 -367.985  L 1962.324 -367.985  L 1959.850 -367.985  L 1957.377 -367.985  L 1954.903 -367.985  L 1952.430 -367.985  L 1949.956 -367.985  L 1947.482 -367.985  L 1945.009 -367.985  L 1942.535 -367.985  L 1940.062 -367.985  L 1937.588 -367.985  L 1935.115 -367.985  L 1932.641 -367.985  L 1930.167 -367.985  L 1927.694 -367.985  L 1925.220 -367.985  L 1922.747 -367.985  L 1920.273 -367.985  L 1917.799 -367.985  L 1915.326 -367.985  L 1912.852 -367.985  L 1910.379 -367.985  L 1907.905 -367.985  L 1905.432 -367.985  L 1902.958 -367.985  L 1900.484 -367.985  L 1898.011 -367.985  L 1895.537 -367.985  L 1893.064 -367.985  L 1890.590 -367.985  L 1888.117 -367.985  L 1885.643 -367.985  L 1883.169 -367.985  L 1880.696 -367.985  L 1878.222 -367.985  L 1875.749 -367.985  L 1873.275 -367.985  L 1870.801 -367.985  L 1868.328 -367.985  L 1865.854 -367.985  L 1863.381 -367.985  L 1860.907 -367.985  L 1858.434 -367.985  L 1855.960 -367.985  L 1853.486 -367.985  L 1851.013 -367.985  L 1848.539 -367.985  L 1846.066 -367.985  L 1843.592 -367.985  L 1841.118 -367.985  L 1838.645 -367.985  L 1836.171 -367.985  L 1833.698 -367.985  L 1831.224 -367.985  L 1828.751 -367.985  L 1826.277 -367.985  L 1823.803 -367.985  L 1821.330 -367.985  L 1818.856 -367.985  L 1816.383 -367.985  L 1813.909 -367.985  L 1811.435 -367.985  L 1808.962 -367.985  L 1806.488 -367.985  L 1804.015 -367.985  L 1801.541 -367.985  L 1799.068 -367.985  L 1796.594 -367.985  L 1794.120 -367.985  L 1791.647 -367.985  L 1789.173 -367.985  L 1786.700 -367.985  L 1784.226 -367.985  L 1781.752 -367.985  L 1779.279 -367.985  L 1776.805 -367.985  L 1774.332 -367.985  L 1771.858 -367.985  L 1769.385 -367.985  L 1766.911 -367.985  L 1764.437 -367.985  L 1761.964 -367.985  L 1759.490 -367.985  L 1757.017 -367.985  L 1754.543 -367.985  L 1752.069 -367.985  L 1749.596 -367.985  L 1747.122 -367.985  L 1744.649 -367.985  L 1742.175 -367.985  L 1739.702 -367.985  L 1737.228 -367.985  L 1734.754 -367.985  L 1732.281 -367.985  L 1729.807 -367.985  L 1727.334 -367.985  L 1724.860 -367.985  L 1722.386 -367.985  L 1719.913 -367.985  L 1717.439 -367.985  L 1714.966 -367.985  L 1712.492 -367.985  L 1710.019 -367.985  L 1707.545 -367.985  L 1705.071 -367.985  L 1702.598 -367.985  L 1700.124 -367.985  L 1697.651 -367.985  L 1695.177 -367.985  L 1692.703 -367.985  L 1690.230 -367.985  L 1687.756 -367.985  L 1685.283 -367.985  L 1682.809 -367.985  L 1680.336 -367.985  L 1677.862 -367.985  L 1675.388 -367.985  L 1672.915 -367.985  L 1670.441 -367.985  L 1667.968 -367.985  L 1665.494 -367.985  L 1663.020 -367.985  L 1660.547 -367.985  L 1658.073 -367.985  L 1655.600 -367.985  L 1653.126 -367.985  L 1650.653 -367.985  L 1648.179 -367.985  L 1645.705 -367.985  L 1643.232 -367.985  L 1640.758 -367.985  L 1638.285 -367.985  L 1635.811 -367.985  L 1633.337 -367.985  L 1630.864 -367.985  L 1628.390 -367.985  L 1625.917 -367.985  L 1623.443 -367.985  L 1620.970 -367.985  L 1618.496 -367.985  L 1616.022 -367.985  L 1613.549 -367.985  L 1611.075 -367.985  L 1608.602 -367.985  L 1606.128 -367.985  L 1603.654 -367.985  L 1601.181 -367.985  L 1598.707 -367.985  L 1596.234 -367.985  L 1593.760 -367.985  L 1591.287 -367.985  L 1588.813 -367.985  L 1586.339 -367.985  L 1583.866 -367.985  L 1581.392 -367.985  L 1578.919 -367.985  L 1576.445 -367.985  L 1573.971 -367.985  L 1571.498 -367.985  L 1569.024 -367.985  L 1566.551 -367.985  L 1564.077 -367.985  L 1561.604 -367.985  L 1559.130 -367.985  L 1556.656 -367.985  L 1554.183 -367.985  L 1551.709 -367.985  L 1549.236 -367.985  L 1546.762 -367.985  L 1544.288 -367.985  L 1541.815 -367.985  L 1539.341 -367.985  L 1536.868 -367.985  L 1534.394 -367.985  L 1531.921 -367.985  L 1529.447 -367.985  L 1526.973 -367.985  L 1524.500 -367.985  L 1522.026 -367.985  L 1519.553 -366.740  L 1517.079 -365.354  L 1514.605 -363.969  L 1512.132 -362.583  L 1509.658 -361.197  L 1507.185 -359.812  L 1504.711 -358.426  L 1502.238 -357.041  L 1499.764 -355.655  L 1497.290 -354.269  L 1494.817 -352.884  L 1492.343 -351.498  L 1489.870 -350.113  L 1487.396 -348.727  L 1484.922 -347.341  L 1482.449 -345.956  L 1479.975 -344.570  L 1477.502 -343.185  L 1475.028 -341.799  L 1472.555 -340.413  L 1470.081 -339.028  L 1467.607 -337.642  L 1465.134 -336.257  L 1462.660 -334.871  L 1460.187 -333.485  L 1457.713 -332.100  L 1455.239 -330.714  L 1452.766 -329.329  L 1450.292 -327.943  L 1447.819 -326.557  L 1445.345 -325.172  L 1442.872 -323.786  L 1440.398 -322.400  L 1437.924 -321.015  L 1435.451 -319.629  L 1432.977 -318.244  L 1430.504 -316.858  L 1428.030 -315.472  L 1425.556 -314.087  L 1423.083 -312.701  L 1420.609 -311.316  L 1418.136 -309.930  L 1415.662 -308.544  L 1413.189 -307.159  L 1410.715 -305.773  L 1408.241 -304.388  L 1405.768 -303.002  L 1403.294 -301.616  L 1400.821 -300.231  L 1398.347 -298.845  L 1395.873 -297.460  L 1393.400 -296.074  L 1390.926 -294.688  L 1388.453 -293.303  L 1385.979 -291.917  L 1383.506 -290.532  L 1381.032 -289.146  L 1378.558 -287.760  L 1376.085 -286.375  L 1373.611 -284.989  L 1371.138 -283.604  L 1368.664 -282.218  L 1366.190 -280.832  L 1363.717 -279.447  L 1361.243 -278.061  L 1358.770 -276.676  L 1356.296 -275.290  L 1353.823 -273.904  L 1351.349 -272.519  L 1348.875 -271.133  L 1346.402 -269.748  L 1343.928 -268.362  L 1341.455 -266.976  L 1338.981 -265.591  L 1336.507 -264.205  L 1334.034 -262.820  L 1331.560 -261.434  L 1329.087 -260.048  L 1326.613 -258.663  L 1324.140 -257.277  L 1321.666 -255.892  L 1319.192 -254.506  L 1316.719 -253.120  L 1314.245 -251.735  L 1311.772 -250.349  L 1309.298 -248.964  L 1306.824 -247.578  L 1304.351 -246.192  L 1301.877 -244.807  L 1299.404 -243.421  L 1296.930 -242.036  L 1294.457 -240.650  L 1291.983 -239.264  L 1289.509 -237.879  L 1287.036 -236.493  L 1284.562 -235.108  L 1282.089 -233.722  L 1279.615 -232.336  L 1277.142 -230.951  L 1274.668 -229.565  L 1272.194 -228.180  L 1269.721 -226.794  L 1267.247 -225.408  L 1264.774 -224.023  L 1262.300 -222.637  L 1259.826 -221.252  L 1257.353 -219.866  L 1254.879 -218.480  L 1252.406 -217.095  L 1249.932 -215.709  L 1247.459 -214.324  L 1244.985 -212.938  L 1242.511 -211.552  L 1240.038 -210.167  L 1237.564 -208.781  L 1235.091 -207.396  L 1232.617 -206.010  L 1230.143 -204.624  L 1227.670 -203.239  L 1225.196 -201.853  L 1222.723 -200.468  L 1220.249 -199.082  L 1217.776 -197.696  L 1215.302 -196.311  L 1212.828 -194.925  L 1210.355 -193.540  L 1207.881 -192.154  L 1205.408 -190.768  L 1202.934 -189.383  L 1200.460 -187.997  L 1197.987 -186.612  L 1195.513 -185.226  L 1193.040 -183.840  L 1190.566 -182.455  L 1188.093 -181.069  L 1185.619 -179.684  L 1183.145 -178.298  L 1180.672 -176.912  L 1178.198 -175.527  L 1175.725 -174.141  L 1173.251 -172.756  L 1170.777 -171.370  L 1168.304 -169.984  L 1165.830 -168.599  L 1163.357 -167.213  L 1160.883 -165.828  L 1158.410 -164.442  L 1155.936 -163.056  L 1153.462 -161.671  L 1150.989 -160.285  L 1148.515 -158.900  L 1146.042 -157.514  L 1143.568 -156.128  L 1141.094 -154.743  L 1138.621 -153.357  L 1136.147 -151.972  L 1133.674 -150.586  L 1131.200 -149.200  L 1128.727 -147.815  L 1126.253 -146.429  L 1123.779 -145.044  L 1121.306 -143.658  L 1118.832 -142.272  L 1116.359 -140.887  L 1113.885 -139.501  L 1111.411 -138.116  L 1108.938 -136.730  L 1106.464 -135.344  L 1103.991 -133.959  L 1101.517 -132.573  L 1099.044 -131.188  L 1096.570 -129.802  L 1094.096 -128.416  L 1091.623 -127.031  L 1089.149 -125.645  L 1086.676 -124.260  L 1084.202 -122.874  L 1081.728 -121.488  L 1079.255 -120.103  L 1076.781 -118.717  L 1074.308 -117.332  L 1071.834 -115.946  L 1069.361 -114.560  L 1066.887 -113.175  L 1064.413 -111.789  L 1061.940 -110.404  L 1059.466 -109.018  L 1056.993 -107.632  L 1054.519 -106.247  L 1052.045 -104.861  L 1049.572 -103.476  L 1047.098 -102.090  L 1044.625 -100.704  L 1042.151 -99.319  L 1039.678 -97.933  L 1037.204 -96.548  L 1034.730 -95.162  L 1032.257 -93.776  L 1029.783 -92.391  L 1027.310 -91.005  L 1024.836 -89.620  L 1022.362 -88.234  L 1019.889 -86.848  L 1017.415 -85.463  L 1014.942 -84.077  L 1012.468 -82.692  L 1009.995 -81.306  L 1007.521 -79.920  L 1005.047 -78.535  L 1002.574 -77.149  L 1000.100 -75.764  L 997.627 -74.378  L 995.153 -72.992  L 992.679 -71.607  L 990.206 -70.221  L 987.732 -68.836  L 985.259 -67.450  L 982.785 -66.064  L 980.312 -64.679  L 977.838 -63.293  L 975.364 -61.908  L 972.891 -60.522  L 970.417 -59.136  L 967.944 -57.751  L 965.470 -56.365  L 962.996 -54.980  L 960.523 -53.594  L 958.049 -52.208  L 955.576 -50.823  L 953.102 -49.437  L 950.629 -48.052  L 948.155 -46.666  L 945.681 -45.280  L 943.208 -43.895  L 940.734 -42.509  L 938.261 -41.124  L 935.787 -39.738  L 933.313 -38.352  L 930.840 -36.967  L 928.366 -35.581  L 925.893 -34.196  L 923.419 -32.810  L 920.946 -31.424  L 918.472 -30.039  L 915.998 -28.653  L 913.525 -27.268  L 911.051 -25.882  L 908.578 -24.496  L 906.104 -23.111  L 903.630 -21.725  L 901.157 -20.340  L 898.683 -18.954  L 896.210 -17.568  L 893.736 -16.183  L 891.263 -14.797  L 888.789 -13.412  L 886.315 -12.026  L 883.842 -10.640  L 881.368 -9.255  L 878.895 -7.869  L 876.421 -6.484  L 873.947 -5.098  L 871.474 -3.712  L 869.000 -2.327  L 866.527 -0.941  L 864.053 0.443  L 861.580 1.829  L 859.106 3.215  L 856.632 4.600  L 854.159 5.986  L 851.685 7.371  L 849.212 8.757  L 846.738 10.143  L 844.264 11.528  L 841.791 12.914  L 839.317 14.299  L 836.844 15.685  L 834.370 17.071  L 831.897 18.456  L 829.423 19.842  L 826.949 21.228  L 824.476 22.613  L 822.002 23.999  L 819.529 25.384  L 817.055 26.770  L 814.581 28.156  L 812.108 29.541  L 809.634 30.927  L 807.161 32.312  L 804.687 33.698  L 802.214 35.084  L 799.740 36.469  L 797.266 37.855  L 794.793 39.240  L 792.319 40.626  L 789.846 42.012  L 787.372 43.397  L 784.898 44.783  L 782.425 46.168  L 779.951 47.554  L 777.478 48.940  L 775.004 50.325  L 772.531 51.711  L 770.057 53.096  L 767.583 54.482  L 765.110 55.868  L 762.636 57.253  L 760.163 58.639  L 757.689 60.024  L 755.215 61.410  L 752.742 62.796  L 750.268 64.181  L 747.795 65.567  L 745.321 66.952  L 742.848 68.338  L 740.374 69.724  L 737.900 71.109  L 735.427 72.495  L 732.953 73.880  L 730.480 75.266  L 728.006 76.652  L 725.532 78.037  L 723.059 79.423  L 720.585 80.808  L 718.112 82.194  L 715.638 83.580  L 713.165 84.965  L 710.691 86.351  L 708.217 87.736  L 705.744 89.122  L 703.270 90.508  L 700.797 91.893  L 698.323 93.279  L 695.849 94.664  L 693.376 96.050  L 690.902 97.436  L 688.429 98.821  L 685.955 100.207  L 683.482 101.592  L 681.008 102.978  L 678.534 104.364  L 676.061 105.749  L 673.587 107.135  L 671.114 108.520  L 668.640 109.906  L 666.167 111.292  L 663.693 112.677  L 661.219 114.063  L 658.746 115.448  L 656.272 116.834  L 653.799 118.220  L 651.325 119.605  L 648.851 120.991  L 646.378 122.376  L 643.904 123.762  L 641.431 125.148  L 638.957 126.533  L 636.484 127.919  L 634.010 129.304  L 631.536 130.690  L 629.063 132.076  L 626.589 133.461  L 624.116 134.847  L 621.642 136.232  L 619.168 137.618  L 616.695 139.004  L 614.221 140.389  L 611.748 141.775  L 609.274 143.160  L 606.801 144.546  L 604.327 145.932  L 601.853 147.317  L 599.380 148.703  L 596.906 150.088  L 594.433 151.474  L 591.959 152.860  L 589.485 154.245  L 587.012 155.631  L 584.538 157.016  L 582.065 158.402  L 579.591 159.788  L 577.118 161.173  L 574.644 162.559  L 572.170 163.944  L 569.697 165.330  L 567.223 166.716  L 564.750 168.101  L 562.276 169.487  L 559.802 170.872  L 557.329 172.258  L 554.855 173.644  L 552.382 175.029  L 549.908 176.415  L 547.435 177.800  L 544.961 179.186  L 542.487 180.572  L 540.014 181.957  L 537.540 183.343  L 535.067 184.728  L 532.593 186.114  L 530.119 187.500  L 527.646 188.885  L 525.172 190.271  L 522.699 191.656  L 520.225 193.042  L 517.752 194.428  L 515.278 195.813  L 512.804 197.199  L 510.331 198.584  L 507.857 199.970  L 505.384 201.356  L 502.910 202.741  L 500.436 204.127  L 497.963 205.512  L 495.489 206.898  L 493.016 208.284  L 490.542 209.669  L 488.069 211.055  L 485.595 212.440  L 483.121 213.826  L 480.648 215.212  L 478.174 216.597  L 475.701 217.983  L 473.227 219.368  L 470.753 220.754  L 468.280 222.140  L 465.806 223.525  L 463.333 224.911  L 460.859 226.296  L 458.386 227.682  L 455.912 229.068  L 453.438 230.453  L 450.965 231.839  L 448.491 233.224  L 446.018 234.610  L 443.544 235.996  L 441.070 237.381  L 438.597 238.767  L 436.123 240.152  L 433.650 241.538  L 431.176 242.924  L 428.703 244.309  L 426.229 245.695  L 423.755 247.080  L 421.282 248.466  L 418.808 249.852  L 416.335 251.237  L 413.861 252.623  L 411.387 254.008  L 408.914 255.394  L 406.440 256.780  L 403.967 258.165  L 401.493 259.551  L 399.020 260.936  L 396.546 262.322  L 394.072 263.708  L 391.599 265.093  L 389.125 266.479  L 386.652 267.864  L 384.178 269.250  L 381.704 270.636  L 379.231 272.021  L 376.757 273.407  L 374.284 274.792  L 371.810 276.178  L 369.337 277.564  L 366.863 278.949  L 364.389 280.335  L 361.916 281.720  L 359.442 283.106  L 356.969 284.492  L 354.495 285.877  L 352.021 287.263  L 349.548 288.648  L 347.074 290.034  L 344.601 291.420  L 342.127 292.805  L 339.654 294.191  L 337.180 295.576  L 334.706 296.962  L 332.233 298.348  L 329.759 299.733  L 327.286 301.119  L 324.812 302.504  L 322.338 303.890  L 319.865 305.276  L 317.391 306.661  L 314.918 308.047  L 312.444 309.432  L 309.971 310.818  L 307.497 312.204  L 305.023 313.589  L 302.550 314.975  L 300.076 316.360  L 297.603 317.746  L 295.129 319.132  L 292.655 320.517  L 290.182 321.903  L 287.708 323.288  L 285.235 324.674  L 282.761 326.060  L 280.288 327.445  L 277.814 328.831  L 275.340 330.216  L 272.867 331.602  L 270.393 332.988  L 267.920 334.373  L 265.446 335.759  L 262.972 337.144  L 260.499 338.530  L 258.025 339.916  L 255.552 341.301  L 253.078 342.687  L 250.605 344.072  L 248.131 345.458  L 245.657 346.844  L 243.184 348.229  L 240.710 349.615  L 238.237 351.000  L 235.763 352.386  L 233.289 353.772  L 230.816 355.157  L 228.342 356.543  L 225.869 357.928  L 223.395 359.314  L 220.922 360.700  L 218.448 362.085  L 215.974 363.471  L 213.501 364.857  L 211.027 366.242  L 208.554 367.628  L 206.080 369.013  L 203.606 370.399  L 201.133 371.785  L 198.659 373.170  L 196.186 374.556  L 193.712 375.941  L 191.239 377.327  L 188.765 378.713  L 186.291 380.098  L 183.818 381.484  L 181.344 382.869  L 178.871 384.255  L 176.397 385.641  L 173.923 387.026  L 171.450 388.412  L 168.976 389.797  L 166.503 391.183  L 164.029 392.569  L 161.556 393.954  L 159.082 395.340  L 156.608 396.725  L 154.135 398.111  L 151.661 399.497  L 149.188 400.882  L 146.714 402.268  L 144.240 403.653  L 141.767 405.039  L 139.293 406.425  L 136.820 407.810  L 134.346 409.196  L 131.873 410.581  L 129.399 411.967  L 126.925 413.353  L 124.452 414.738  L 121.978 416.124  L 119.505 417.509  L 117.031 418.895  L 114.557 420.281  L 112.084 421.666  L 109.610 423.052  L 107.137 424.437  L 104.663 425.823  L 102.190 427.209  L 99.716 428.594  L 97.242 429.980  L 94.769 431.365  L 92.295 432.751  L 89.822 434.137  L 87.348 435.522  L 84.874 436.908  L 82.401 438.293  L 79.927 439.679  L 77.454 441.065  L 74.980 442.450  L 72.507 443.836  L 70.033 445.221  L 67.559 446.607  L 65.086 447.993  L 62.612 449.378  L 60.139 450.764  L 57.665 452.149  L 55.192 453.535  L 52.718 454.921  L 50.244 456.306  L 47.771 457.692  L 45.297 459.077  L 42.824 460.463  L 40.350 461.849  L 37.876 463.234  L 35.403 464.620  L 32.929 466.005  L 30.456 467.391  L 27.982 468.777  L 25.509 470.162  L 23.035 471.548  L 20.561 472.933  L 18.088 474.319  L 15.614 475.705  L 13.141 477.090  L 10.667 478.476  L 8.193 479.861  L 5.720 481.247  L 3.246 482.633  L 0.773 484.018  L -1.700 485.404  L -4.173 486.789  L -6.647 488.175  L -9.121 489.561  L -11.594 490.946  L -14.068 492.332  L -16.541 493.717  L -19.015 495.103  L -21.489 496.489  L -23.962 497.874  L -26.436 499.260  L -28.909 500.645  L -31.383 502.031  L -33.856 503.417  L -36.330 504.802  L -38.804 506.188  L -41.277 507.573  L -43.751 508.959  L -46.224 510.345  L -48.698 511.730  L -51.172 513.116  L -53.645 514.501  L -56.119 515.887  L -58.592 517.273  L -61.066 518.658  L -63.539 520.044  L -66.013 521.429  L -68.487 522.815  L -70.960 524.201  L -73.434 525.586  L -75.907 526.972  L -78.381 528.357  L -80.855 529.743  L -83.328 531.129  L -85.802 532.514  L -88.275 533.900  L -90.749 535.285  L -93.222 536.671  L -95.696 538.057  L -98.170 539.442  L -100.643 540.828  L -103.117 542.213  L -105.590 543.599  L -108.064 544.985  L -110.538 546.370  L -113.011 547.756  L -115.485 549.141  L -117.958 550.527  L -120.432 551.913  L -122.905 553.298  L -125.379 554.684  L -127.853 556.069  L -130.326 557.455  L -132.800 558.841  L -135.273 560.226  L -137.747 561.612  L -140.221 562.997  L -142.694 564.383  L -145.168 565.769  L -147.641 567.154  L -150.115 568.540  L -152.588 569.925  L -155.062 571.311  L -157.536 572.697  L -160.009 574.082  L -162.483 575.468  L -164.956 576.853  L -167.430 578.239  L -169.904 579.625  L -172.377 581.010  L -174.851 582.396  L -177.324 583.781  L -179.798 585.167  L -182.271 586.553  L -184.745 587.938  L -187.219 589.324  L -189.692 590.709  L -192.166 592.095  L -194.639 593.481  L -197.113 594.866  L -199.587 596.252  L -202.060 597.637  L -204.534 599.023  L -207.007 600.409  L -209.481 601.794  L -211.954 603.180  L -214.428 604.565  L -216.902 605.951  L -219.375 607.337  L -221.849 608.722  L -224.322 610.108  L -226.796 611.493  L -229.270 612.879  L -231.743 614.265  L -234.217 615.650  L -236.690 617.036  L -239.164 618.421  L -241.637 619.807  L -244.111 621.193  L -246.585 622.578  L -249.058 623.964  z" clip-path="url(#p6d46db9cea)" style="fill: #ff0000; fill-opacity: 0.08; stroke: #ff0000; stroke-opacity: 0.08"/>
   </g>
   <g id="PathCollection_1">
    <path d="M 683.52 107.695  C 685.144 107.695 686.701 107.050 687.850 105.901  C 688.998 104.753 689.643 103.195 689.643 101.571  C 689.643 99.947 688.998 98.389 687.850 97.241  C 686.701 96.093 685.144 95.447 683.52 95.447  C 681.895 95.447 680.338 96.093 679.189 97.241  C 678.041 98.389 677.396 99.947 677.396 101.571  C 677.396 103.195 678.041 104.753 679.189 105.901  C 680.338 107.050 681.895 107.695 683.52 107.695  L 683.52 107.695  z" clip-path="url(#p6d46db9cea)" style="fill: none; stroke: #2ecc71; stroke-opacity: 0.4; stroke-width: 2"/>
   </g>
   <g id="line2d_69">
    <path d="M 683.52 101.571  L 683.52 316.368" clip-path="url(#p6d46db9cea)" style="fill: none; stroke-dasharray: 7.4,3.2; stroke-dashoffset: 0; stroke: #2ecc71; stroke-opacity: 0.4; stroke-width: 2; shape-rendering: crispEdges"/>
   </g>
   <g id="PathCollection_2">
    <path d="M 528.96 194.273  C 530.584 194.273 532.141 193.628 533.290 192.479  C 534.438 191.331 535.083 189.773 535.083 188.149  C 535.083 186.525 534.438 184.968 533.290 183.819  C 532.141 182.671 530.584 182.026 528.96 182.026  C 527.335 182.026 525.778 182.671 524.629 183.819  C 523.481 184.968 522.836 186.525 522.836 188.149  C 522.836 189.773 523.481 191.331 524.629 192.479  C 525.778 193.628 527.335 194.273 528.96 194.273  L 528.96 194.273  z" clip-path="url(#p6d46db9cea)" style="fill: none; stroke: #e67e22; stroke-opacity: 0.4; stroke-width: 2"/>
   </g>
   <g id="line2d_70">
    <path d="M 528.96 188.149  L 528.96 334.608" clip-path="url(#p6d46db9cea)" style="fill: none; stroke-dasharray: 7.4,3.2; stroke-dashoffset: 0; stroke: #e67e22; stroke-opacity: 0.4; stroke-width: 2; shape-rendering: crispEdges"/>
   </g>
   <g id="PathCollection_3">
    <path d="M 683.52 107.695  C 685.144 107.695 686.701 107.050 687.850 105.901  C 688.998 104.753 689.643 103.195 689.643 101.571  C 689.643 99.947 688.998 98.389 687.850 97.241  C 686.701 96.093 685.144 95.447 683.52 95.447  C 681.895 95.447 680.338 96.093 679.189 97.241  C 678.041 98.389 677.396 99.947 677.396 101.571  C 677.396 103.195 678.041 104.753 679.189 105.901  C 680.338 107.050 681.895 107.695 683.52 107.695  L 683.52 107.695  z" clip-path="url(#p6d46db9cea)" style="fill: none; stroke: #e74c3c; stroke-opacity: 0.4; stroke-width: 2"/>
   </g>
   <g id="line2d_71">
    <path d="M 683.52 101.571  L 683.52 376.68" clip-path="url(#p6d46db9cea)" style="fill: none; stroke-dasharray: 7.4,3.2; stroke-dashoffset: 0; stroke: #e74c3c; stroke-opacity: 0.4; stroke-width: 2; shape-rendering: crispEdges"/>
   </g>
   <g id="PathCollection_4">
    <path d="M 683.52 107.695  C 685.144 107.695 686.701 107.050 687.850 105.901  C 688.998 104.753 689.643 103.195 689.643 101.571  C 689.643 99.947 688.998 98.389 687.850 97.241  C 686.701 96.093 685.144 95.447 683.52 95.447  C 681.895 95.447 680.338 96.093 679.189 97.241  C 678.041 98.389 677.396 99.947 677.396 101.571  C 677.396 103.195 678.041 104.753 679.189 105.901  C 680.338 107.050 681.895 107.695 683.52 107.695  L 683.52 107.695  z" clip-path="url(#p6d46db9cea)" style="fill: none; stroke: #9b59b6; stroke-opacity: 0.4; stroke-width: 2"/>
   </g>
   <g id="line2d_72">
    <path d="M 683.52 101.571  L 683.52 373.704" clip-path="url(#p6d46db9cea)" style="fill: none; stroke-dasharray: 7.4,3.2; stroke-dashoffset: 0; stroke: #9b59b6; stroke-opacity: 0.4; stroke-width: 2; shape-rendering: crispEdges"/>
   </g>
   <g id="PathCollection_5">
    <path d="M 343.2 298.328  C 344.824 298.328 346.381 297.683 347.530 296.535  C 348.678 295.386 349.323 293.829 349.323 292.205  C 349.323 290.581 348.678 289.023 347.530 287.874  C 346.381 286.726 344.824 286.081 343.2 286.081  C 341.575 286.081 340.018 286.726 338.869 287.874  C 337.721 289.023 337.076 290.581 337.076 292.205  C 337.076 293.829 337.721 295.386 338.869 296.535  C 340.018 297.683 341.575 298.328 343.2 298.328  L 343.2 298.328  z" clip-path="url(#p6d46db9cea)" style="fill: none; stroke: #27ae60; stroke-opacity: 0.4; stroke-width: 2"/>
   </g>
   <g id="line2d_73">
    <path d="M 343.2 292.205  L 343.2 578.688" clip-path="url(#p6d46db9cea)" style="fill: none; stroke-dasharray: 7.4,3.2; stroke-dashoffset: 0; stroke: #27ae60; stroke-opacity: 0.4; stroke-width: 2; shape-rendering: crispEdges"/>
   </g>
   <g id="PathCollection_6">
    <path d="M 528.96 194.273  C 530.584 194.273 532.141 193.628 533.290 192.479  C 534.438 191.331 535.083 189.773 535.083 188.149  C 535.083 186.525 534.438 184.968 533.290 183.819  C 532.141 182.671 530.584 182.026 528.96 182.026  C 527.335 182.026 525.778 182.671 524.629 183.819  C 523.481 184.968 522.836 186.525 522.836 188.149  C 522.836 189.773 523.481 191.331 524.629 192.479  C 525.778 193.628 527.335 194.273 528.96 194.273  L 528.96 194.273  z" clip-path="url(#p6d46db9cea)" style="fill: none; stroke: #d35400; stroke-opacity: 0.4; stroke-width: 2"/>
   </g>
   <g id="line2d_74">
    <path d="M 528.96 188.149  L 528.96 501.408" clip-path="url(#p6d46db9cea)" style="fill: none; stroke-dasharray: 7.4,3.2; stroke-dashoffset: 0; stroke: #d35400; stroke-opacity: 0.4; stroke-width: 2; shape-rendering: crispEdges"/>
   </g>
   <g id="PathCollection_7">
    <path d="M 343.2 298.328  C 344.824 298.328 346.381 297.683 347.530 296.535  C 348.678 295.386 349.323 293.829 349.323 292.205  C 349.323 290.581 348.678 289.023 347.530 287.874  C 346.381 286.726 344.824 286.081 343.2 286.081  C 341.575 286.081 340.018 286.726 338.869 287.874  C 337.721 289.023 337.076 290.581 337.076 292.205  C 337.076 293.829 337.721 295.386 338.869 296.535  C 340.018 297.683 341.575 298.328 343.2 298.328  L 343.2 298.328  z" clip-path="url(#p6d46db9cea)" style="fill: none; stroke: #c0392b; stroke-opacity: 0.4; stroke-width: 2"/>
   </g>
   <g id="line2d_75">
    <path d="M 343.2 292.205  L 343.2 503.088" clip-path="url(#p6d46db9cea)" style="fill: none; stroke-dasharray: 7.4,3.2; stroke-dashoffset: 0; stroke: #c0392b; stroke-opacity: 0.4; stroke-width: 2; shape-rendering: crispEdges"/>
   </g>
   <g id="patch_3">
    <path d="M 45.696 670.176  L 45.696 54.84" style="fill: none; stroke: #cccccc; stroke-width: 0.8; stroke-linejoin: miter; stroke-linecap: square; shape-rendering: crispEdges"/>
   </g>
   <g id="patch_4">
    <path d="M 986.496 670.176  L 986.496 54.84" style="fill: none; stroke: #cccccc; stroke-width: 0.8; stroke-linejoin: miter; stroke-linecap: square; shape-rendering: crispEdges"/>
   </g>
   <g id="patch_5">
    <path d="M 45.696 670.176  L 986.496 670.176" style="fill: none; stroke: #cccccc; stroke-width: 0.8; stroke-linejoin: miter; stroke-linecap: square; shape-rendering: crispEdges"/>
   </g>
   <g id="patch_6">
    <path d="M 45.696 54.84  L 986.496 54.84" style="fill: none; stroke: #cccccc; stroke-width: 0.8; stroke-linejoin: miter; stroke-linecap: square; shape-rendering: crispEdges"/>
   </g>
   <g id="line2d_76">
    <path d="M -1 485.011  L 866.631 -1  L 866.631 -1" clip-path="url(#p6d46db9cea)" style="fill: none; stroke: #e74c3c; stroke-opacity: 0.8; stroke-width: 3; stroke-linecap: round"/>
   </g>
   <g id="line2d_77">
    <path d="M -1 485.011  L 866.631 -1  L 866.631 -1" clip-path="url(#p6d46db9cea)" style="fill: none; stroke: #3498db; stroke-opacity: 0.8; stroke-width: 3; stroke-linecap: round"/>
   </g>
   <g id="line2d_78">
    <path d="M -1 485.011  L 866.631 -1  L 866.631 -1" clip-path="url(#p6d46db9cea)" style="fill: none; stroke: #2ecc71; stroke-opacity: 0.8; stroke-width: 3; stroke-linecap: round"/>
   </g>
   <g id="text_1">
    <g id="patch_7">
     <path d="M 693.52 310.463  L 770.871 310.463 
Q 773.271 310.463 773.271 308.063  L 773.271 300.570 
Q 773.271 298.170 770.871 298.170  L 693.52 298.170 
Q 691.12 298.170 691.12 300.570  L 691.12 308.063 
Q 691.12 310.463 693.52 310.463  z" style="fill: #ffffff; fill-opacity: 0.8; stroke-opacity: 0.8; stroke: #2ecc71; stroke-linejoin: miter"/>
    </g>
    <text style="font-weight: 700; font-size: 8px; font-family: 'Liberation Sans', sans-serif; text-anchor: start; fill: #262626" x="693.52" y="306.368">gemma3:1b (ollama)</text>
   </g>
   <g id="text_2">
    <g id="patch_8">
     <path d="M 538.96 328.668  L 615.415 328.668 
Q 617.815 328.668 617.815 326.268  L 617.815 318.810 
Q 617.815 316.410 615.415 316.410  L 538.96 316.410 
Q 536.56 316.410 536.56 318.810  L 536.56 326.268 
Q 536.56 328.668 538.96 328.668  z" style="fill: #ffffff; fill-opacity: 0.8; stroke-opacity: 0.8; stroke: #e67e22; stroke-linejoin: miter"/>
    </g>
    <text style="font-weight: 700; font-size: 8px; font-family: 'Liberation Sans', sans-serif; text-anchor: start; fill: #262626" x="538.96" y="324.608">qwen3:0.6b (ollama)</text>
   </g>
   <g id="text_3">
    <g id="patch_9">
     <path d="M 673.52 355.74  L 756.646 355.74 
Q 759.046 355.74 759.046 353.34  L 759.046 345.882 
Q 759.046 343.482 756.646 343.482  L 673.52 343.482 
Q 671.12 343.482 671.12 345.882  L 671.12 353.34 
Q 671.12 355.74 673.52 355.74  z" style="fill: #ffffff; fill-opacity: 0.8; stroke-opacity: 0.8; stroke: #e74c3c; stroke-linejoin: miter"/>
    </g>
    <text style="font-weight: 700; font-size: 8px; font-family: 'Liberation Sans', sans-serif; text-anchor: start; fill: #262626" x="673.52" y="351.68">qwen2.5:0.5b (ollama)</text>
   </g>
   <g id="text_4">
    <g id="patch_10">
     <path d="M 693.52 337.799  L 780.206 337.799 
Q 782.606 337.799 782.606 335.399  L 782.606 327.906 
Q 782.606 325.506 780.206 325.506  L 693.52 325.506 
Q 691.12 325.506 691.12 327.906  L 691.12 335.399 
Q 691.12 337.799 693.52 337.799  z" style="fill: #ffffff; fill-opacity: 0.8; stroke-opacity: 0.8; stroke: #9b59b6; stroke-linejoin: miter"/>
    </g>
    <text style="font-weight: 700; font-size: 8px; font-family: 'Liberation Sans', sans-serif; text-anchor: start; fill: #262626" x="693.52" y="333.704">gemma3n:e2b (ollama)</text>
   </g>
   <g id="text_5">
    <g id="patch_11">
     <path d="M 353.2 572.783  L 459.868 572.783 
Q 462.268 572.783 462.268 570.383  L 462.268 562.890 
Q 462.268 560.490 459.868 560.490  L 353.2 560.490 
Q 350.8 560.490 350.8 562.890  L 350.8 570.383 
Q 350.8 572.783 353.2 572.783  z" style="fill: #ffffff; fill-opacity: 0.8; stroke-opacity: 0.8; stroke: #27ae60; stroke-linejoin: miter"/>
    </g>
    <text style="font-weight: 700; font-size: 8px; font-family: 'Liberation Sans', sans-serif; text-anchor: start; fill: #262626" x="353.2" y="568.688">google/gemma-3-1b-it (vllm)</text>
   </g>
   <g id="text_6">
    <g id="patch_12">
     <path d="M 518.96 480.468  L 629.645 480.468 
Q 632.045 480.468 632.045 478.068  L 632.045 470.610 
Q 632.045 468.210 629.645 468.210  L 518.96 468.210 
Q 516.56 468.210 516.56 470.610  L 516.56 478.068 
Q 516.56 480.468 518.96 480.468  z" style="fill: #ffffff; fill-opacity: 0.8; stroke-opacity: 0.8; stroke: #d35400; stroke-linejoin: miter"/>
    </g>
    <text style="font-weight: 700; font-size: 8px; font-family: 'Liberation Sans', sans-serif; text-anchor: start; fill: #262626" x="518.96" y="476.408">Qwen/Qwen3-0.6B-FP8 (vllm)</text>
   </g>
   <g id="text_7">
    <g id="patch_13">
     <path d="M 333.2 482.148  L 465.218 482.148 
Q 467.618 482.148 467.618 479.748  L 467.618 472.290 
Q 467.618 469.890 465.218 469.890  L 333.2 469.890 
Q 330.8 469.890 330.8 472.290  L 330.8 479.748 
Q 330.8 482.148 333.2 482.148  z" style="fill: #ffffff; fill-opacity: 0.8; stroke-opacity: 0.8; stroke: #c0392b; stroke-linejoin: miter"/>
    </g>
    <text style="font-weight: 700; font-size: 8px; font-family: 'Liberation Sans', sans-serif; text-anchor: start; fill: #262626" x="333.2" y="478.088">Qwen/Qwen2.5-0.5B-Instruct (vllm)</text>
   </g>
   <g id="text_8">
    <g id="patch_14">
     <path d="M 332.445 322.559  L 353.955 322.559 
Q 357.555 322.559 357.555 318.959  L 357.555 310.570 
Q 357.555 306.970 353.955 306.970  L 332.445 306.970 
Q 328.845 306.970 328.845 310.570  L 328.845 318.959 
Q 328.845 322.559 332.445 322.559  z" style="fill: #ffffff; fill-opacity: 0.9; stroke-opacity: 0.9; stroke: #16a085; stroke-width: 2; stroke-linejoin: miter"/>
    </g>
    <text style="font-weight: 700; font-size: 9px; font-family: 'Liberation Sans', sans-serif; text-anchor: middle; fill: #16a085" x="343.2" y="317.092">FP16</text>
   </g>
   <g id="text_9">
    <g id="patch_15">
     <path d="M 520.707 218.504  L 537.212 218.504 
Q 540.812 218.504 540.812 214.904  L 540.812 206.515 
Q 540.812 202.915 537.212 202.915  L 520.707 202.915 
Q 517.107 202.915 517.107 206.515  L 517.107 214.904 
Q 517.107 218.504 520.707 218.504  z" style="fill: #ffffff; fill-opacity: 0.9; stroke-opacity: 0.9; stroke: #f39c12; stroke-width: 2; stroke-linejoin: miter"/>
    </g>
    <text style="font-weight: 700; font-size: 9px; font-family: 'Liberation Sans', sans-serif; text-anchor: middle; fill: #f39c12" x="528.96" y="213.037">FP8</text>
   </g>
   <g id="text_10">
    <g id="patch_16">
     <path d="M 666.516 131.926  L 700.523 131.926 
Q 704.123 131.926 704.123 128.326  L 704.123 119.936 
Q 704.123 116.336 700.523 116.336  L 666.516 116.336 
Q 662.916 116.336 662.916 119.936  L 662.916 128.326 
Q 662.916 131.926 666.516 131.926  z" style="fill: #ffffff; fill-opacity: 0.9; stroke-opacity: 0.9; stroke: #8e44ad; stroke-width: 2; stroke-linejoin: miter"/>
    </g>
    <text style="font-weight: 700; font-size: 9px; font-family: 'Liberation Sans', sans-serif; text-anchor: middle; fill: #8e44ad" x="683.52" y="126.458">INT4/Q4</text>
   </g>
   <g id="text_11">
    <g id="patch_17">
     <path d="M 122.880 606.614  L 158.991 606.614 
Q 163.991 606.614 163.991 601.614  L 163.991 571.097 
Q 163.991 566.097 158.991 566.097  L 122.880 566.097 
Q 117.880 566.097 117.880 571.097  L 117.880 601.614 
Q 117.880 606.614 122.880 606.614  z" style="fill: #ffffff; fill-opacity: 0.7; stroke-opacity: 0.7; stroke: #ffffff; stroke-linejoin: miter"/>
    </g>
    <text style="font-style: italic; font-size: 10px; font-family: 'Liberation Sans', sans-serif; fill: #262626; opacity: 0.7" transform="translate(123.24 578.344)">Memory</text>
    <text style="font-style: italic; font-size: 10px; font-family: 'Liberation Sans', sans-serif; fill: #262626; opacity: 0.7" transform="translate(123.24 588.942)">Bound</text>
    <text style="font-style: italic; font-size: 10px; font-family: 'Liberation Sans', sans-serif; fill: #262626; opacity: 0.7" transform="translate(123.24 599.539)">Region</text>
   </g>
   <g id="text_12">
    <g id="patch_18">
     <path d="M 849.442 89.315  L 934.486 89.315 
Q 939.486 89.315 939.486 84.315  L 939.486 74.994 
Q 939.486 69.994 934.486 69.994  L 849.442 69.994 
Q 844.442 69.994 844.442 74.994  L 844.442 84.315 
Q 844.442 89.315 849.442 89.315  z" style="fill: #ffffff; fill-opacity: 0.7; stroke-opacity: 0.7; stroke: #ffffff; stroke-linejoin: miter"/>
    </g>
    <text style="font-style: italic; font-size: 10px; font-family: 'Liberation Sans', sans-serif; text-anchor: start; fill: #262626; opacity: 0.7" x="849.80" y="82.240">Compute Bound <tspan x="921.39" y="82.32" style="font-style: normal; font-size: 15.84px">→</tspan></text>
   </g>
   <g id="PathCollection_8">
    <defs>
     <path id="m09e3859f03" d="M 0 -8.944  L -2.008 -2.763  L -8.506 -2.763  L -3.249 1.055  L -5.257 7.236  L -0 3.416  L 5.257 7.236  L 3.249 1.055  L 8.506 -2.763  L 2.008 -2.763  z" style="stroke: #000000; stroke-width: 0.5; stroke-linejoin: bevel"/>
    </defs>
    <g clip-path="url(#p6d46db9cea)">
     <use href="#m09e3859f03" x="683.52" y="316.368" style="fill: #2ecc71; stroke: #000000; stroke-width: 0.5"/>
    </g>
   </g>
   <g id="PathCollection_9">
    <defs>
     <path id="ma2ce9f95c9" d="M 0 -8.944  L -2.008 -2.763  L -8.506 -2.763  L -3.249 1.055  L -5.257 7.236  L -0 3.416  L 5.257 7.236  L 3.249 1.055  L 8.506 -2.763  L 2.008 -2.763  z" style="stroke: #000000; stroke-width: 0.5; stroke-linejoin: bevel"/>
    </defs>
    <g clip-path="url(#p6d46db9cea)">
     <use href="#ma2ce9f95c9" x="528.96" y="334.608" style="fill: #e67e22; stroke: #000000; stroke-width: 0.5"/>
    </g>
   </g>
   <g id="PathCollection_10">
    <defs>
     <path id="md43e743ee3" d="M 0 -8.944  L -2.008 -2.763  L -8.506 -2.763  L -3.249 1.055  L -5.257 7.236  L -0 3.416  L 5.257 7.236  L 3.249 1.055  L 8.506 -2.763  L 2.008 -2.763  z" style="stroke: #000000; stroke-width: 0.5; stroke-linejoin: bevel"/>
    </defs>
    <g clip-path="url(#p6d46db9cea)">
     <use href="#md43e743ee3" x="683.52" y="376.68" style="fill: #e74c3c; stroke: #000000; stroke-width: 0.5"/>
    </g>
   </g>
   <g id="PathCollection_11">
    <defs>
     <path id="m89ee8d6999" d="M 0 -8.944  L -2.008 -2.763  L -8.506 -2.763  L -3.249 1.055  L -5.257 7.236  L -0 3.416  L 5.257 7.236  L 3.249 1.055  L 8.506 -2.763  L 2.008 -2.763  z" style="stroke: #000000; stroke-width: 0.5; stroke-linejoin: bevel"/>
    </defs>
    <g clip-path="url(#p6d46db9cea)">
     <use href="#m89ee8d6999" x="683.52" y="373.704" style="fill: #9b59b6; stroke: #000000; stroke-width: 0.5"/>
    </g>
   </g>
   <g id="PathCollection_12">
    <defs>
     <path id="m4e27e7dbb2" d="M 0 -8.944  L -2.008 -2.763  L -8.506 -2.763  L -3.249 1.055  L -5.257 7.236  L -0 3.416  L 5.257 7.236  L 3.249 1.055  L 8.506 -2.763  L 2.008 -2.763  z" style="stroke: #000000; stroke-width: 0.5; stroke-linejoin: bevel"/>
    </defs>
    <g clip-path="url(#p6d46db9cea)">
     <use href="#m4e27e7dbb2" x="343.2" y="578.688" style="fill: #27ae60; stroke: #000000; stroke-width: 0.5"/>
    </g>
   </g>
   <g id="PathCollection_13">
    <defs>
     <path id="mca432a5df9" d="M 0 -8.944  L -2.008 -2.763  L -8.506 -2.763  L -3.249 1.055  L -5.257 7.236  L -0 3.416  L 5.257 7.236  L 3.249 1.055  L 8.506 -2.763  L 2.008 -2.763  z" style="stroke: #000000; stroke-width: 0.5; stroke-linejoin: bevel"/>
    </defs>
    <g clip-path="url(#p6d46db9cea)">
     <use href="#mca432a5df9" x="528.96" y="501.408" style="fill: #d35400; stroke: #000000; stroke-width: 0.5"/>
    </g>
   </g>
   <g id="PathCollection_14">
    <defs>
     <path id="me25858d8ed" d="M 0 -8.944  L -2.008 -2.763  L -8.506 -2.763  L -3.249 1.055  L -5.257 7.236  L -0 3.416  L 5.257 7.236  L 3.249 1.055  L 8.506 -2.763  L 2.008 -2.763  z" style="stroke: #000000; stroke-width: 0.5; stroke-linejoin: bevel"/>
    </defs>
    <g clip-path="url(#p6d46db9cea)">
     <use href="#me25858d8ed" x="343.2" y="503.088" style="fill: #c0392b; stroke: #000000; stroke-width: 0.5"/>
    </g>
   </g>
   <g id="legend_1">
    <g id="patch_19">
     <path d="M 51.996 289.846  L 271.344 289.846 
Q 273.144 289.846 273.144 288.046  L 273.144 61.14 
Q 273.144 59.34 271.344 59.34  L 51.996 59.34 
Q 50.196 59.34 50.196 61.14  L 50.196 288.046 
Q 50.196 289.846 51.996 289.846  z" style="fill: #ffffff; fill-opacity: 0.9; stroke-opacity: 0.9; stroke: #cccccc; stroke-linejoin: miter"/>
    </g>
    <g id="line2d_79">
     <path d="M 53.796 66.312  L 62.796 66.312  L 71.796 66.312" style="fill: none; stroke: #e74c3c; stroke-opacity: 0.8; stroke-width: 3; stroke-linecap: round"/>
    </g>
    <g id="text_13">
     <text style="font-size: 9px; font-family: 'Liberation Sans', sans-serif; text-anchor: start; fill: #262626" x="78.996" y="69.462">INT8 Roofline (40 TOPS)</text>
    </g>
    <g id="line2d_80">
     <path d="M 53.796 78.954  L 62.796 78.954  L 71.796 78.954" style="fill: none; stroke: #3498db; stroke-opacity: 0.8; stroke-width: 3; stroke-linecap: round"/>
    </g>
    <g id="text_14">
     <text style="font-size: 9px; font-family: 'Liberation Sans', sans-serif; text-anchor: start; fill: #262626" x="78.996" y="82.104">FP16 Roofline (10 TFLOPS)</text>
    </g>
    <g id="line2d_81">
     <path d="M 53.796 91.596  L 62.796 91.596  L 71.796 91.596" style="fill: none; stroke: #2ecc71; stroke-opacity: 0.8; stroke-width: 3; stroke-linecap: round"/>
    </g>
    <g id="text_15">
     <text style="font-size: 9px; font-family: 'Liberation Sans', sans-serif; text-anchor: start; fill: #262626" x="78.996" y="94.746">FP32 Roofline (5 TFLOPS)</text>
    </g>
    <g id="patch_20">
     <path d="M 53.796 107.388  L 71.796 107.388  L 71.796 101.088  L 53.796 101.088  z" style="fill: #ff0000; fill-opacity: 0.08; stroke: #ff0000; stroke-opacity: 0.08; stroke-linejoin: miter"/>
    </g>
    <g id="text_16">
     <text style="font-size: 9px; font-family: 'Liberation Sans', sans-serif; text-anchor: start; fill: #262626" x="78.996" y="107.388">Memory Bandwidth Limited</text>
    </g>
    <g id="PathCollection_15">
     <path d="M 62.796 123.130  C 64.420 123.130 65.977 122.485 67.126 121.337  C 68.274 120.188 68.919 118.630 68.919 117.006  C 68.919 115.382 68.274 113.825 67.126 112.676  C 65.977 111.528 64.420 110.883 62.796 110.883  C 61.171 110.883 59.614 111.528 58.465 112.676  C 57.317 113.825 56.672 115.382 56.672 117.006  C 56.672 118.630 57.317 120.188 58.465 121.337  C 59.614 122.485 61.171 123.130 62.796 123.130  L 62.796 123.130  z" style="fill: none; stroke: #2ecc71; stroke-opacity: 0.4; stroke-width: 2"/>
    </g>
    <g id="text_17">
     <text style="font-size: 9px; font-family: 'Liberation Sans', sans-serif; text-anchor: start; fill: #262626" x="78.996" y="120.030">gemma3:1b (ollama) (theoretical)</text>
    </g>
    <g id="PathCollection_16">
     <g>
      <use href="#m09e3859f03" x="62.796" y="129.649" style="fill: #2ecc71; stroke: #000000; stroke-width: 0.5"/>
     </g>
    </g>
    <g id="text_18">
     <text style="font-size: 9px; font-family: 'Liberation Sans', sans-serif; text-anchor: start; fill: #262626" x="78.996" y="132.673">gemma3:1b (ollama) (actual)</text>
    </g>
    <g id="PathCollection_17">
     <path d="M 62.796 148.415  C 64.420 148.415 65.977 147.769 67.126 146.621  C 68.274 145.473 68.919 143.915 68.919 142.291  C 68.919 140.667 68.274 139.109 67.126 137.961  C 65.977 136.812 64.420 136.167 62.796 136.167  C 61.171 136.167 59.614 136.812 58.465 137.961  C 57.317 139.109 56.672 140.667 56.672 142.291  C 56.672 143.915 57.317 145.473 58.465 146.621  C 59.614 147.769 61.171 148.415 62.796 148.415  L 62.796 148.415  z" style="fill: none; stroke: #e67e22; stroke-opacity: 0.4; stroke-width: 2"/>
    </g>
    <g id="text_19">
     <text style="font-size: 9px; font-family: 'Liberation Sans', sans-serif; text-anchor: start; fill: #262626" x="78.996" y="145.315">qwen3:0.6b (ollama) (theoretical)</text>
    </g>
    <g id="PathCollection_18">
     <g>
      <use href="#ma2ce9f95c9" x="62.796" y="154.933" style="fill: #e67e22; stroke: #000000; stroke-width: 0.5"/>
     </g>
    </g>
    <g id="text_20">
     <text style="font-size: 9px; font-family: 'Liberation Sans', sans-serif; text-anchor: start; fill: #262626" x="78.996" y="157.957">qwen3:0.6b (ollama) (actual)</text>
    </g>
    <g id="PathCollection_19">
     <path d="M 62.796 173.699  C 64.420 173.699 65.977 173.054 67.126 171.905  C 68.274 170.757 68.919 169.199 68.919 167.575  C 68.919 165.951 68.274 164.393 67.126 163.245  C 65.977 162.097 64.420 161.451 62.796 161.451  C 61.171 161.451 59.614 162.097 58.465 163.245  C 57.317 164.393 56.672 165.951 56.672 167.575  C 56.672 169.199 57.317 170.757 58.465 171.905  C 59.614 173.054 61.171 173.699 62.796 173.699  L 62.796 173.699  z" style="fill: none; stroke: #e74c3c; stroke-opacity: 0.4; stroke-width: 2"/>
    </g>
    <g id="text_21">
     <text style="font-size: 9px; font-family: 'Liberation Sans', sans-serif; text-anchor: start; fill: #262626" x="78.996" y="170.599">qwen2.5:0.5b (ollama) (theoretical)</text>
    </g>
    <g id="PathCollection_20">
     <g>
      <use href="#md43e743ee3" x="62.796" y="180.217" style="fill: #e74c3c; stroke: #000000; stroke-width: 0.5"/>
     </g>
    </g>
    <g id="text_22">
     <text style="font-size: 9px; font-family: 'Liberation Sans', sans-serif; text-anchor: start; fill: #262626" x="78.996" y="183.241">qwen2.5:0.5b (ollama) (actual)</text>
    </g>
    <g id="PathCollection_21">
     <path d="M 62.796 198.983  C 64.420 198.983 65.977 198.338 67.126 197.190  C 68.274 196.041 68.919 194.484 68.919 192.860  C 68.919 191.236 68.274 189.678 67.126 188.529  C 65.977 187.381 64.420 186.736 62.796 186.736  C 61.171 186.736 59.614 187.381 58.465 188.529  C 57.317 189.678 56.672 191.236 56.672 192.860  C 56.672 194.484 57.317 196.041 58.465 197.190  C 59.614 198.338 61.171 198.983 62.796 198.983  L 62.796 198.983  z" style="fill: none; stroke: #9b59b6; stroke-opacity: 0.4; stroke-width: 2"/>
    </g>
    <g id="text_23">
     <text style="font-size: 9px; font-family: 'Liberation Sans', sans-serif; text-anchor: start; fill: #262626" x="78.996" y="195.884">gemma3n:e2b (ollama) (theoretical)</text>
    </g>
    <g id="PathCollection_22">
     <g>
      <use href="#m89ee8d6999" x="62.796" y="205.502" style="fill: #9b59b6; stroke: #000000; stroke-width: 0.5"/>
     </g>
    </g>
    <g id="text_24">
     <text style="font-size: 9px; font-family: 'Liberation Sans', sans-serif; text-anchor: start; fill: #262626" x="78.996" y="208.526">gemma3n:e2b (ollama) (actual)</text>
    </g>
    <g id="PathCollection_23">
     <path d="M 62.796 224.268  C 64.420 224.268 65.977 223.622 67.126 222.474  C 68.274 221.326 68.919 219.768 68.919 218.144  C 68.919 216.520 68.274 214.962 67.126 213.814  C 65.977 212.665 64.420 212.020 62.796 212.020  C 61.171 212.020 59.614 212.665 58.465 213.814  C 57.317 214.962 56.672 216.520 56.672 218.144  C 56.672 219.768 57.317 221.326 58.465 222.474  C 59.614 223.622 61.171 224.268 62.796 224.268  L 62.796 224.268  z" style="fill: none; stroke: #27ae60; stroke-opacity: 0.4; stroke-width: 2"/>
    </g>
    <g id="text_25">
     <text style="font-size: 9px; font-family: 'Liberation Sans', sans-serif; text-anchor: start; fill: #262626" x="78.996" y="221.168">google/gemma-3-1b-it (vllm) (theoretical)</text>
    </g>
    <g id="PathCollection_24">
     <g>
      <use href="#m4e27e7dbb2" x="62.796" y="230.786" style="fill: #27ae60; stroke: #000000; stroke-width: 0.5"/>
     </g>
    </g>
    <g id="text_26">
     <text style="font-size: 9px; font-family: 'Liberation Sans', sans-serif; text-anchor: start; fill: #262626" x="78.996" y="233.810">google/gemma-3-1b-it (vllm) (actual)</text>
    </g>
    <g id="PathCollection_25">
     <path d="M 62.796 249.552  C 64.420 249.552 65.977 248.907 67.126 247.758  C 68.274 246.610 68.919 245.052 68.919 243.428  C 68.919 241.804 68.274 240.247 67.126 239.098  C 65.977 237.950 64.420 237.305 62.796 237.305  C 61.171 237.305 59.614 237.950 58.465 239.098  C 57.317 240.247 56.672 241.804 56.672 243.428  C 56.672 245.052 57.317 246.610 58.465 247.758  C 59.614 248.907 61.171 249.552 62.796 249.552  L 62.796 249.552  z" style="fill: none; stroke: #d35400; stroke-opacity: 0.4; stroke-width: 2"/>
    </g>
    <g id="text_27">
     <text style="font-size: 9px; font-family: 'Liberation Sans', sans-serif; text-anchor: start; fill: #262626" x="78.996" y="246.452">Qwen/Qwen3-0.6B-FP8 (vllm) (theoretical)</text>
    </g>
    <g id="PathCollection_26">
     <g>
      <use href="#mca432a5df9" x="62.796" y="256.071" style="fill: #d35400; stroke: #000000; stroke-width: 0.5"/>
     </g>
    </g>
    <g id="text_28">
     <text style="font-size: 9px; font-family: 'Liberation Sans', sans-serif; text-anchor: start; fill: #262626" x="78.996" y="259.095">Qwen/Qwen3-0.6B-FP8 (vllm) (actual)</text>
    </g>
    <g id="PathCollection_27">
     <path d="M 62.796 274.836  C 64.420 274.836 65.977 274.191 67.126 273.043  C 68.274 271.894 68.919 270.337 68.919 268.713  C 68.919 267.089 68.274 265.531 67.126 264.383  C 65.977 263.234 64.420 262.589 62.796 262.589  C 61.171 262.589 59.614 263.234 58.465 264.383  C 57.317 265.531 56.672 267.089 56.672 268.713  C 56.672 270.337 57.317 271.894 58.465 273.043  C 59.614 274.191 61.171 274.836 62.796 274.836  L 62.796 274.836  z" style="fill: none; stroke: #c0392b; stroke-opacity: 0.4; stroke-width: 2"/>
    </g>
    <g id="text_29">
     <text style="font-size: 9px; font-family: 'Liberation Sans', sans-serif; text-anchor: start; fill: #262626" x="78.996" y="271.737">Qwen/Qwen2.5-0.5B-Instruct (vllm) (theoretical)</text>
    </g>
    <g id="PathCollection_28">
     <g>
      <use href="#me25858d8ed" x="62.796" y="281.355" style="fill: #c0392b; stroke: #000000; stroke-width: 0.5"/>
     </g>
    </g>
    <g id="text_30">
     <text style="font-size: 9px; font-family: 'Liberation Sans', sans-serif; text-anchor: start; fill: #262626" x="78.996" y="284.379">Qwen/Qwen2.5-0.5B-Instruct (vllm) (actual)</text>
    </g>
   </g>
  </g>
  <g id="text_31">
   <text style="font-weight: 700; font-size: 15px; font-family: 'Liberation Sans', sans-serif; text-anchor: middle; fill: #262626" x="516.096" y="18.36">Roofline Model: LLM Inference Performance on Jetson Orin Nano</text>
  </g>
  <g id="text_32">
   <text style="font-weight: 700; font-size: 15px; font-family: 'Liberation Sans', sans-serif; text-anchor: middle; fill: #262626" x="516.096" y="34.68">(INT8 / FP16 / FP32 Precision)</text>
  </g>
  <g id="text_33">
   <text style="font-weight: 700; font-size: 13px; font-family: 'Liberation Sans', sans-serif; text-anchor: middle; fill: #262626" x="516.096" y="704.376">Operational Intensity (FLOPs/Byte)</text>
  </g>
  <g id="text_34">
   <text style="font-weight: 700; font-size: 13px; font-family: 'Liberation Sans', sans-serif; text-anchor: middle; fill: #262626" x="16.584" y="362.508" transform="rotate(-90 16.584 362.508)">Performance (GFLOPS)</text>
  </g>
  <g id="text_35">
   <text style="font-size: 10px; font-family: 'Liberation Sans', sans-serif; text-anchor: start; fill: #262626" x="361.086" y="688.512">10<tspan x="372.462" y="681.48" style="font-size: 7px">0</tspan></text>
  </g>
  <g id="text_37">
   <text style="font-size: 10px; font-family: 'Liberation Sans', sans-serif; text-anchor: start; fill: #262626" x="979.536" y="688.512">10<tspan x="990.912" y="681.48" style="font-size: 7px">1</tspan></text>
  </g>
  <g id="text_39">
   <text style="font-size: 10px; font-family: 'Liberation Sans', sans-serif; text-anchor: start; fill: #262626" x="23.616" y="225.565">10<tspan x="34.992" y="218.533" style="font-size: 7px">2</tspan></text>
  </g>
  <g id="text_41">
   <text style="font-size: 10px; font-family: 'Liberation Sans', sans-serif; text-anchor: start; fill: #262626" x="24.504" y="571.619">10<tspan x="35.88" y="564.587" style="font-size: 7px">1</tspan></text>
  </g>
 </g>
 <defs>
  <clipPath id="p6d46db9cea">
   <rect x="45.696" y="54.84" width="940.8" height="615.336"/>
  </clipPath>
 </defs>
</svg>

</body></html>
